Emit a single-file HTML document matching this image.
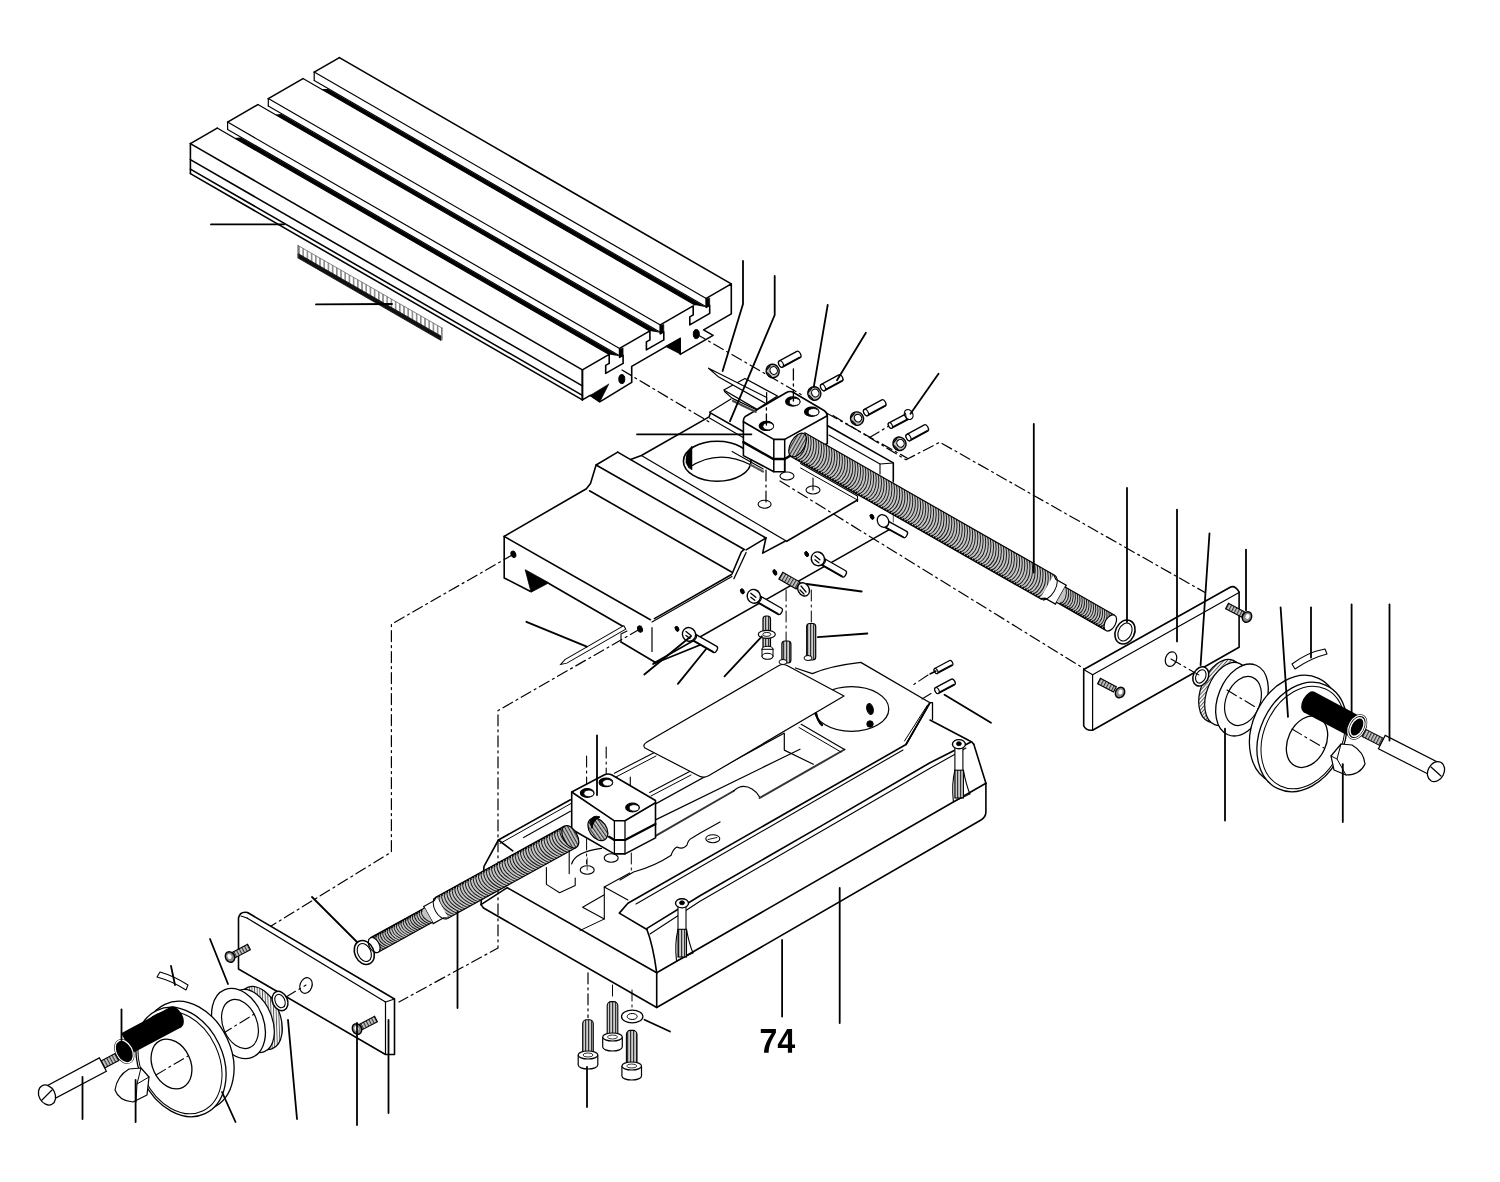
<!DOCTYPE html>
<html><head><meta charset="utf-8"><style>
html,body{margin:0;padding:0;background:#fff;}
svg{display:block;}
text{font-family:"Liberation Sans",sans-serif;}
</style></head><body>
<svg width="1500" height="1182" viewBox="0 0 1500 1182">
<defs>
<pattern id="thr" patternUnits="userSpaceOnUse" width="4" height="4" patternTransform="rotate(-28)">
<rect width="4" height="4" fill="#bbb"/><rect width="1.6" height="4" fill="#222"/>
</pattern>
<pattern id="thr2" patternUnits="userSpaceOnUse" width="3" height="3" patternTransform="rotate(0)">
<rect width="3" height="3" fill="#ccc"/><rect width="1.2" height="3" fill="#333"/>
</pattern>
<pattern id="knurl" patternUnits="userSpaceOnUse" width="2.6" height="2.6" patternTransform="rotate(20)">
<rect width="2.6" height="2.6" fill="#f4f4f4"/><rect width="0.9" height="2.6" fill="#555"/>
</pattern>
<pattern id="rack" patternUnits="userSpaceOnUse" width="4.2" height="10" patternTransform="rotate(0)">
<rect width="4.2" height="10" fill="#fff"/><rect width="1.6" height="10" fill="#888"/>
</pattern>
</defs>
<rect width="1500" height="1182" fill="#fff"/>
<polyline points="190.4,143.6 582.4,369.9" fill="none" stroke="#000" stroke-width="1.6" stroke-linejoin="round" stroke-linecap="round" />
<polyline points="190.4,159.6 582.4,385.9" fill="none" stroke="#000" stroke-width="1.6" stroke-linejoin="round" stroke-linecap="round" />
<polyline points="190.4,169.1 582.4,395.4" fill="none" stroke="#000" stroke-width="1.6" stroke-linejoin="round" stroke-linecap="round" />
<polyline points="190.4,173.6 582.4,399.9" fill="none" stroke="#000" stroke-width="1.6" stroke-linejoin="round" stroke-linecap="round" />
<polyline points="190.4,143.6 190.4,173.6" fill="none" stroke="#000" stroke-width="1.6" stroke-linejoin="round" stroke-linecap="round" />
<polyline points="582.4,369.9 582.4,399.9" fill="none" stroke="#000" stroke-width="1.6" stroke-linejoin="round" stroke-linecap="round" />
<polyline points="190.4,143.6 217.2,128.1" fill="none" stroke="#000" stroke-width="1.6" stroke-linejoin="round" stroke-linecap="round" />
<polygon points="240.6,137.4 619.6,356.2 609.2,354.4 234.6,138.1" fill="#000" stroke="#000" stroke-width="0" stroke-linejoin="round" />
<polyline points="217.2,128.1 609.2,354.4" fill="none" stroke="#000" stroke-width="1.2" stroke-linejoin="round" stroke-linecap="round" />
<polyline points="227.6,122.1 257.9,104.6" fill="none" stroke="#000" stroke-width="1.6" stroke-linejoin="round" stroke-linecap="round" />
<polyline points="227.6,122.1 619.6,348.4" fill="none" stroke="#000" stroke-width="1.2" stroke-linejoin="round" stroke-linecap="round" />
<polyline points="227.6,122.1 227.6,129.5" fill="none" stroke="#000" stroke-width="1.2" stroke-linejoin="round" stroke-linecap="round" />
<polyline points="227.6,129.5 619.6,355.8" fill="none" stroke="#000" stroke-width="1.1" stroke-linejoin="round" stroke-linecap="round" />
<polygon points="281.3,113.9 660.3,332.7 649.9,330.9 275.3,114.6" fill="#000" stroke="#000" stroke-width="0" stroke-linejoin="round" />
<polyline points="257.9,104.6 649.9,330.9" fill="none" stroke="#000" stroke-width="1.2" stroke-linejoin="round" stroke-linecap="round" />
<polyline points="268.3,98.6 303,78.6" fill="none" stroke="#000" stroke-width="1.6" stroke-linejoin="round" stroke-linecap="round" />
<polyline points="268.3,98.6 660.3,324.9" fill="none" stroke="#000" stroke-width="1.2" stroke-linejoin="round" stroke-linecap="round" />
<polyline points="268.3,98.6 268.3,106" fill="none" stroke="#000" stroke-width="1.2" stroke-linejoin="round" stroke-linecap="round" />
<polyline points="268.3,106 660.3,332.3" fill="none" stroke="#000" stroke-width="1.1" stroke-linejoin="round" stroke-linecap="round" />
<polygon points="328.1,88.9 706.2,307.2 694.9,304.9 321.2,89.1" fill="#000" stroke="#000" stroke-width="0" stroke-linejoin="round" />
<polyline points="303,78.6 694.9,304.9" fill="none" stroke="#000" stroke-width="1.2" stroke-linejoin="round" stroke-linecap="round" />
<polyline points="314.2,72.1 339.4,57.6" fill="none" stroke="#000" stroke-width="1.6" stroke-linejoin="round" stroke-linecap="round" />
<polyline points="314.2,72.1 706.2,298.4" fill="none" stroke="#000" stroke-width="1.2" stroke-linejoin="round" stroke-linecap="round" />
<polyline points="314.2,72.1 314.2,80.5" fill="none" stroke="#000" stroke-width="1.2" stroke-linejoin="round" stroke-linecap="round" />
<polyline points="314.2,80.5 706.2,306.8" fill="none" stroke="#000" stroke-width="1.1" stroke-linejoin="round" stroke-linecap="round" />
<polyline points="339.4,57.6 731.3,283.9" fill="none" stroke="#000" stroke-width="1.6" stroke-linejoin="round" stroke-linecap="round" />
<polyline points="582.4,369.9 609.2,354.4 609.2,363.4 605.7,365.4 605.7,373.4 623.1,363.4 623.1,355.4 619.6,357.4 619.6,348.4 649.9,330.9 649.9,339.9 646.4,341.9 646.4,349.9 663.8,339.9 663.8,331.9 660.3,333.9 660.3,324.9 693.2,305.9 693.2,314.9 689.8,316.9 689.8,324.9 709.7,313.4 709.7,305.4 706.2,307.4 706.2,298.4 731.3,283.9 731.3,313.9 703.6,329.9 713.1,335.4 680.2,354.4 680.2,338.4 631.7,366.4 631.7,382.4 603.1,399.9 599.7,401.9 590.2,395.4 582.4,399.9 582.4,369.9" fill="none" stroke="#000" stroke-width="1.6" stroke-linejoin="round" stroke-linecap="round" />
<polygon points="619.6,348.9 623.1,347.9 623.1,355.4 619.6,356.9" fill="#000" stroke="#000" stroke-width="0.6" stroke-linejoin="round" />
<polygon points="660.3,325.4 663.8,324.4 663.8,331.9 660.3,333.4" fill="#000" stroke="#000" stroke-width="0.6" stroke-linejoin="round" />
<polygon points="706.2,298.9 709.7,297.9 709.7,305.4 706.2,306.9" fill="#000" stroke="#000" stroke-width="0.6" stroke-linejoin="round" />
<polygon points="589.9,395.5 608.9,383.9 599.9,401.8" fill="#000" stroke="#000" stroke-width="0.6" stroke-linejoin="round" />
<polygon points="665.5,346.4 680.5,338.2 680.5,354.2" fill="#000" stroke="#000" stroke-width="0.6" stroke-linejoin="round" />
<ellipse cx="621.8" cy="379.1" rx="3" ry="4.5" transform="rotate(0 621.8 379.1)" fill="#000" stroke="#000" stroke-width="1" />
<ellipse cx="696.3" cy="334.1" rx="3" ry="4.5" transform="rotate(0 696.3 334.1)" fill="#000" stroke="#000" stroke-width="1" />
<polygon points="298,245.5 442,328 441,339.5 298,257" fill="url(#rack)" stroke="#000" stroke-width="0" stroke-linejoin="round" />
<polyline points="298,245.5 442,328" fill="none" stroke="#666" stroke-width="0.8" stroke-linejoin="round" stroke-linecap="round" />
<polygon points="298,253.5 441,336 441,340.5 298,258" fill="#111" stroke="#111" stroke-width="0.8" stroke-linejoin="round" />
<polyline points="298,245.5 298,258" fill="none" stroke="#555" stroke-width="1" stroke-linejoin="round" stroke-linecap="round" />
<polyline points="442,328 442,340" fill="none" stroke="#555" stroke-width="1" stroke-linejoin="round" stroke-linecap="round" />
<polyline points="504.2,536.4 586.4,488.7 590.5,483.6 596.1,465 617.7,452.1" fill="none" stroke="#000" stroke-width="1.6" stroke-linejoin="round" stroke-linecap="round" />
<polyline points="504.2,536.4 650.4,619.7" fill="none" stroke="#000" stroke-width="1.6" stroke-linejoin="round" stroke-linecap="round" />
<polyline points="654.4,618.6 731.6,574.5" fill="none" stroke="#000" stroke-width="1.6" stroke-linejoin="round" stroke-linecap="round" />
<polyline points="652,622 732,576.5" fill="none" stroke="#000" stroke-width="1.1" stroke-linejoin="round" stroke-linecap="round" />
<polyline points="589.5,490.8 731.6,572" fill="none" stroke="#000" stroke-width="1.6" stroke-linejoin="round" stroke-linecap="round" />
<polyline points="596.1,465 744.3,549.5" fill="none" stroke="#000" stroke-width="1.6" stroke-linejoin="round" stroke-linecap="round" />
<polyline points="617.7,452.1 765.9,538" fill="none" stroke="#000" stroke-width="1.6" stroke-linejoin="round" stroke-linecap="round" />
<polyline points="732.3,573.3 741.3,552 743.5,549.9" fill="none" stroke="#000" stroke-width="1.6" stroke-linejoin="round" stroke-linecap="round" />
<polyline points="733.9,578.7 746.1,552.5" fill="none" stroke="#000" stroke-width="1.3" stroke-linejoin="round" stroke-linecap="round" />
<polyline points="746.1,549.9 765.9,538" fill="none" stroke="#000" stroke-width="1.6" stroke-linejoin="round" stroke-linecap="round" />
<polyline points="765.9,538 762.7,553.1 785,541.3" fill="none" stroke="#000" stroke-width="1.6" stroke-linejoin="round" stroke-linecap="round" />
<polyline points="786.7,541.3 857.5,500" fill="none" stroke="#000" stroke-width="1.6" stroke-linejoin="round" stroke-linecap="round" />
<polyline points="630.6,459.5 641.4,455.5 709.1,416.9 710.4,412.9 744,432" fill="none" stroke="#000" stroke-width="1.6" stroke-linejoin="round" stroke-linecap="round" />
<polyline points="641.4,455.5 786.7,541.3" fill="none" stroke="#000" stroke-width="1.2" stroke-linejoin="round" stroke-linecap="round" />
<polyline points="709.5,418 744,438" fill="none" stroke="#000" stroke-width="1.1" stroke-linejoin="round" stroke-linecap="round" />
<polyline points="504.2,536.4 504.2,578 530.6,591.5" fill="none" stroke="#000" stroke-width="1.6" stroke-linejoin="round" stroke-linecap="round" />
<polygon points="525.2,569.7 548.9,582.8 531.1,592.2" fill="#000" stroke="#000" stroke-width="0.8" stroke-linejoin="round" />
<polyline points="548.9,583.5 622.3,626" fill="none" stroke="#000" stroke-width="1.6" stroke-linejoin="round" stroke-linecap="round" />
<polyline points="621,642 655.5,662.5" fill="none" stroke="#000" stroke-width="1.6" stroke-linejoin="round" stroke-linecap="round" />
<polyline points="652,627.7 652,651.4" fill="none" stroke="#000" stroke-width="1.2" stroke-linejoin="round" stroke-linecap="round" />
<polyline points="621,642 621,634 627,631" fill="none" stroke="#000" stroke-width="1.1" stroke-linejoin="round" stroke-linecap="round" />
<ellipse cx="513.4" cy="554.3" rx="2.3" ry="3.3" transform="rotate(-20 513.4 554.3)" fill="#000" stroke="#000" stroke-width="1" />
<ellipse cx="640" cy="629" rx="2.3" ry="3.3" transform="rotate(-20 640 629)" fill="#000" stroke="#000" stroke-width="1" />
<polyline points="653.6,663.3 888.8,529.9" fill="none" stroke="#000" stroke-width="1.6" stroke-linejoin="round" stroke-linecap="round" />
<polyline points="893.3,481 893.3,522" fill="none" stroke="#555" stroke-width="1.0" stroke-linejoin="round" stroke-linecap="round" />
<polyline points="827.7,425.7 893.3,462.9 893.3,481.2" fill="none" stroke="#000" stroke-width="1.6" stroke-linejoin="round" stroke-linecap="round" />
<polyline points="829,435 880,464 880,474" fill="none" stroke="#000" stroke-width="1.1" stroke-linejoin="round" stroke-linecap="round" />
<polyline points="880,464 893.3,463" fill="none" stroke="#000" stroke-width="1.1" stroke-linejoin="round" stroke-linecap="round" />
<polyline points="800.6,463.6 857.5,496.1 857.5,501.5" fill="none" stroke="#000" stroke-width="1.1" stroke-linejoin="round" stroke-linecap="round" />
<polyline points="800.6,468 857.5,500" fill="none" stroke="#000" stroke-width="1.0" stroke-linejoin="round" stroke-linecap="round" />
<ellipse cx="677" cy="628.8" rx="1.6" ry="2.6" transform="rotate(-25 677 628.8)" fill="#000" stroke="#000" stroke-width="0.8" />
<ellipse cx="742.3" cy="591.5" rx="1.6" ry="2.6" transform="rotate(-25 742.3 591.5)" fill="#000" stroke="#000" stroke-width="0.8" />
<ellipse cx="775" cy="572.8" rx="1.6" ry="2.6" transform="rotate(-25 775 572.8)" fill="#000" stroke="#000" stroke-width="0.8" />
<ellipse cx="806.7" cy="554.1" rx="1.6" ry="2.6" transform="rotate(-25 806.7 554.1)" fill="#000" stroke="#000" stroke-width="0.8" />
<ellipse cx="872" cy="516.8" rx="1.6" ry="2.6" transform="rotate(-25 872 516.8)" fill="#000" stroke="#000" stroke-width="0.8" />
<ellipse cx="717.2" cy="461.2" rx="33.8" ry="20" transform="rotate(0 717.2 461.2)" fill="#fff" stroke="#000" stroke-width="1.6" />
<path d="M688.8,467.7 Q718,448 751,465" fill="none" stroke="#000" stroke-width="1.2" stroke-linejoin="round" stroke-linecap="round" />
<path d="M686,458 Q686,452 692,446 L692,470 Q688,468 686,463 Z" fill="#000" stroke="#000" stroke-width="0.5" stroke-linejoin="round" stroke-linecap="round" />
<ellipse cx="764.6" cy="504.2" rx="6.5" ry="4" transform="rotate(0 764.6 504.2)" fill="none" stroke="#000" stroke-width="1.1" />
<polyline points="732.1,451.4 763.2,469" fill="none" stroke="#000" stroke-width="1.1" stroke-linejoin="round" stroke-linecap="round" />
<polyline points="751,465 763,471.5" fill="none" stroke="#555" stroke-width="2.2" stroke-linejoin="round" stroke-linecap="round" stroke-dasharray="1.1 1.1"/>
<polyline points="481,904.6 507.2,887.7 656.7,972.8 656.7,1007.5 483.5,908 481,904.6" fill="none" stroke="#000" stroke-width="1.6" stroke-linejoin="round" stroke-linecap="round" />
<path d="M656.7,1007.5 L981,820 Q985.9,817 985.9,812 L985.9,783.3" fill="none" stroke="#000" stroke-width="1.6" stroke-linejoin="round" stroke-linecap="round" />
<polyline points="656.7,972.8 985.9,783.3" fill="none" stroke="#000" stroke-width="1.6" stroke-linejoin="round" stroke-linecap="round" />
<path d="M656.7,972.8 Q653,945 646.9,929.5" fill="none" stroke="#000" stroke-width="1.6" stroke-linejoin="round" stroke-linecap="round" />
<polyline points="973.8,744.2 985.9,783.3" fill="none" stroke="#000" stroke-width="1.6" stroke-linejoin="round" stroke-linecap="round" />
<polyline points="647,928.4 700,895.8 820,826.6 930,762.8 971,742" fill="none" stroke="#000" stroke-width="1.6" stroke-linejoin="round" stroke-linecap="round" />
<polyline points="650,934 700,901.3 820,832.1 930,768.3 966,748" fill="none" stroke="#000" stroke-width="1.1" stroke-linejoin="round" stroke-linecap="round" />
<polyline points="646.9,929.5 619.3,913.1 627.9,903.3 906,744.5 930,702.7" fill="none" stroke="#000" stroke-width="1.6" stroke-linejoin="round" stroke-linecap="round" />
<polyline points="636,904 903,750" fill="none" stroke="#000" stroke-width="1.1" stroke-linejoin="round" stroke-linecap="round" />
<path d="M930,720 L969,740.5 Q972,741.5 973.8,744.2" fill="none" stroke="#000" stroke-width="1.6" stroke-linejoin="round" stroke-linecap="round" />
<polyline points="604.3,886.9 604.3,919 582.6,907.2 604.3,894.8" fill="none" stroke="#000" stroke-width="1.1" stroke-linejoin="round" stroke-linecap="round" />
<polyline points="604.3,886.9 627.9,900" fill="none" stroke="#000" stroke-width="1.1" stroke-linejoin="round" stroke-linecap="round" />
<polyline points="604.3,886.9 629.8,873.1" fill="none" stroke="#000" stroke-width="1.1" stroke-linejoin="round" stroke-linecap="round" />
<polyline points="580,930.5 604.3,919" fill="none" stroke="#000" stroke-width="1.0" stroke-linejoin="round" stroke-linecap="round" />
<polyline points="481,904.6 484,866.4 498.4,840 570.4,799.8" fill="none" stroke="#000" stroke-width="1.6" stroke-linejoin="round" stroke-linecap="round" />
<polyline points="500,843.5 571,803.5" fill="none" stroke="#000" stroke-width="1.0" stroke-linejoin="round" stroke-linecap="round" />
<polyline points="498.4,840 512.8,850.8" fill="none" stroke="#000" stroke-width="1.6" stroke-linejoin="round" stroke-linecap="round" />
<polyline points="523.6,837.6 570.4,811.2" fill="none" stroke="#000" stroke-width="1.1" stroke-linejoin="round" stroke-linecap="round" />
<polyline points="546.4,867.6 546.4,884.4 559.6,892.8 575.2,885.6 575.2,878" fill="none" stroke="#000" stroke-width="1.1" stroke-linejoin="round" stroke-linecap="round" />
<polyline points="569.2,849.6 569.2,873.6" fill="none" stroke="#000" stroke-width="1.1" stroke-linejoin="round" stroke-linecap="round" />
<path d="M571.6,864 Q575,852 601.6,848.4" fill="none" stroke="#000" stroke-width="1.1" stroke-linejoin="round" stroke-linecap="round" />
<path d="M620,880 L633.6,872 Q655,866 671.2,855.2 Q673,849 677,847 Q683,850 687,845 Q688,840 692,838 L700.7,832.7 L720,821.9" fill="none" stroke="#000" stroke-width="1.2" stroke-linejoin="round" stroke-linecap="round" />
<polyline points="656,803.6 784,733.2" fill="none" stroke="#000" stroke-width="1.2" stroke-linejoin="round" stroke-linecap="round" />
<polyline points="656,819.6 800,749.2" fill="none" stroke="#000" stroke-width="1.2" stroke-linejoin="round" stroke-linecap="round" />
<polyline points="640,844.8 733.6,791" fill="none" stroke="#333" stroke-width="2.0" stroke-linejoin="round" stroke-linecap="round" />
<path d="M733.6,791 Q742,783 752,789 Q757,792 759.6,797" fill="none" stroke="#000" stroke-width="1.2" stroke-linejoin="round" stroke-linecap="round" />
<polyline points="759.6,798 844.5,749.5" fill="none" stroke="#333" stroke-width="2.0" stroke-linejoin="round" stroke-linecap="round" />
<polyline points="801.2,724.3 844.5,749.5" fill="none" stroke="#000" stroke-width="1.2" stroke-linejoin="round" stroke-linecap="round" />
<polyline points="799,727.5 841,752" fill="none" stroke="#000" stroke-width="1.0" stroke-linejoin="round" stroke-linecap="round" />
<polyline points="784.3,733.3 784.3,750.1 813.3,764.2" fill="none" stroke="#000" stroke-width="1.2" stroke-linejoin="round" stroke-linecap="round" />
<polyline points="614.4,773.2 654.4,752.4" fill="none" stroke="#000" stroke-width="1.1" stroke-linejoin="round" stroke-linecap="round" />
<polyline points="616,777 656,756" fill="none" stroke="#000" stroke-width="1.0" stroke-linejoin="round" stroke-linecap="round" />
<polyline points="649.6,792.4 689.6,771.6" fill="none" stroke="#000" stroke-width="1.1" stroke-linejoin="round" stroke-linecap="round" />
<polyline points="651,796 691,775" fill="none" stroke="#000" stroke-width="1.0" stroke-linejoin="round" stroke-linecap="round" />
<polyline points="612,776 612,790" fill="none" stroke="#000" stroke-width="1.0" stroke-linejoin="round" stroke-linecap="round" />
<path d="M795.5,668 L812.3,673.6 Q830,666 860.8,662.4 L930,702.7 L932.5,702.7 L932.5,719.6" fill="none" stroke="#000" stroke-width="1.3" stroke-linejoin="round" stroke-linecap="round" />
<polyline points="930,702.7 906,744.5" fill="none" stroke="#000" stroke-width="1.6" stroke-linejoin="round" stroke-linecap="round" />
<polyline points="927.5,705 904.5,741" fill="none" stroke="#000" stroke-width="1.0" stroke-linejoin="round" stroke-linecap="round" />
<ellipse cx="851.5" cy="709" rx="37.3" ry="22.4" transform="rotate(0 851.5 709)" fill="#fff" stroke="#000" stroke-width="1.2" />
<ellipse cx="870" cy="709" rx="3.2" ry="5.5" transform="rotate(-15 870 709)" fill="#000" stroke="#000" stroke-width="1" />
<ellipse cx="870" cy="724" rx="3.2" ry="3.2" transform="rotate(0 870 724)" fill="#000" stroke="#000" stroke-width="1" />
<path d="M647,742 L779,665.5 Q783,663.5 787,665.5 L844,696 L709,775.5 Q704,778.5 699,776 L645,748 Q642,745 647,742 Z" fill="#fff" stroke="#000" stroke-width="1.2" stroke-linejoin="round" stroke-linecap="round" />
<path d="M816,713 Q818,722 822,725" fill="none" stroke="#000" stroke-width="2.2" stroke-linejoin="round" stroke-linecap="round" />
<ellipse cx="587.2" cy="870" rx="7" ry="4.2" transform="rotate(0 587.2 870)" fill="#fff" stroke="#000" stroke-width="1.1" />
<polyline points="587.2,858 587.2,870" fill="none" stroke="#555" stroke-width="1.0" stroke-linejoin="round" stroke-linecap="round" />
<ellipse cx="611.2" cy="858" rx="7" ry="4.2" transform="rotate(0 611.2 858)" fill="#fff" stroke="#000" stroke-width="1.1" />
<ellipse cx="712.8" cy="838.7" rx="7" ry="4" transform="rotate(0 712.8 838.7)" fill="none" stroke="#000" stroke-width="1.1" />
<polyline points="708,839.5 717,837.5" fill="none" stroke="#000" stroke-width="0.9" stroke-linejoin="round" stroke-linecap="round" />
<path d="M676.5,961 Q674.5,943.3 678,929.3 M686.5,929.3 Q689,943.3 693,953" fill="none" stroke="#000" stroke-width="1.1" stroke-linejoin="round" stroke-linecap="round" />
<rect x="678.0" y="905.3" width="8" height="25" fill="#fff" stroke="#000" stroke-width="1.1"/>
<rect x="678.0" y="929.3" width="8.5" height="27.7" fill="url(#thr2)" stroke="#000" stroke-width="1.1"/>
<ellipse cx="682" cy="903.3" rx="6.5" ry="4.6" transform="rotate(0 682 903.3)" fill="#fff" stroke="#000" stroke-width="1.4" />
<ellipse cx="682" cy="902.8" rx="2.5" ry="2" transform="rotate(0 682 902.8)" fill="#000" stroke="#000" stroke-width="0.8" />
<polyline points="676.5,961 693,953" fill="none" stroke="#000" stroke-width="1.0" stroke-linejoin="round" stroke-linecap="round" />
<path d="M953.4,802 Q951.4,784.2 954.9,770.2 M963.4,770.2 Q965.9,784.2 969.9,794" fill="none" stroke="#000" stroke-width="1.1" stroke-linejoin="round" stroke-linecap="round" />
<rect x="954.9" y="746.2" width="8" height="25" fill="#fff" stroke="#000" stroke-width="1.1"/>
<rect x="954.9" y="770.2" width="8.5" height="27.8" fill="url(#thr2)" stroke="#000" stroke-width="1.1"/>
<ellipse cx="958.9" cy="744.2" rx="6.5" ry="4.6" transform="rotate(0 958.9 744.2)" fill="#fff" stroke="#000" stroke-width="1.4" />
<ellipse cx="958.9" cy="743.7" rx="2.5" ry="2" transform="rotate(0 958.9 743.7)" fill="#000" stroke="#000" stroke-width="0.8" />
<polyline points="953.4,802 969.9,794" fill="none" stroke="#000" stroke-width="1.0" stroke-linejoin="round" stroke-linecap="round" />
<polyline points="513.4,554.3 391.4,624.2 391.4,852 268,928" fill="none" stroke="#000" stroke-width="1.2" stroke-linejoin="round" stroke-linecap="round" stroke-dasharray="11 4 2 4" stroke-linecap="butt"/>
<polyline points="640,629 498,710.6 498,948 399,1002" fill="none" stroke="#000" stroke-width="1.2" stroke-linejoin="round" stroke-linecap="round" stroke-dasharray="11 4 2 4" stroke-linecap="butt"/>
<polyline points="695.5,333.5 803.6,396" fill="none" stroke="#000" stroke-width="1.2" stroke-linejoin="round" stroke-linecap="round" stroke-dasharray="11 4 2 4" stroke-linecap="butt"/>
<polyline points="622,370 711,423" fill="none" stroke="#000" stroke-width="1.2" stroke-linejoin="round" stroke-linecap="round" stroke-dasharray="11 4 2 4" stroke-linecap="butt"/>
<polyline points="833,415.5 869.5,437.5 906,459.8 939.8,442.2 1205,592.5" fill="none" stroke="#000" stroke-width="1.2" stroke-linejoin="round" stroke-linecap="round" stroke-dasharray="11 4 2 4" stroke-linecap="butt"/>
<polyline points="869.5,437.5 889.8,425.5" fill="none" stroke="#000" stroke-width="1.2" stroke-linejoin="round" stroke-linecap="round" stroke-dasharray="11 4 2 4" stroke-linecap="butt"/>
<polyline points="780,481 1084.6,669" fill="none" stroke="#000" stroke-width="1.2" stroke-linejoin="round" stroke-linecap="round" stroke-dasharray="11 4 2 4" stroke-linecap="butt"/>
<polyline points="827.3,413.4 907.8,458.4" fill="none" stroke="#000" stroke-width="1.2" stroke-linejoin="round" stroke-linecap="round" stroke-dasharray="11 4 2 4" stroke-linecap="butt"/>
<polyline points="766,470 766,505" fill="none" stroke="#000" stroke-width="1.2" stroke-linejoin="round" stroke-linecap="round" stroke-dasharray="11 4 2 4" stroke-linecap="butt"/>
<polyline points="586.6,756 586.6,792" fill="none" stroke="#000" stroke-width="1.1" stroke-linejoin="round" stroke-linecap="round" stroke-dasharray="11 4 2 4" stroke-linecap="butt"/>
<polyline points="606.2,747 606.2,777" fill="none" stroke="#000" stroke-width="1.1" stroke-linejoin="round" stroke-linecap="round" stroke-dasharray="11 4 2 4" stroke-linecap="butt"/>
<polyline points="630.3,777 630.3,805" fill="none" stroke="#000" stroke-width="1.1" stroke-linejoin="round" stroke-linecap="round" stroke-dasharray="11 4 2 4" stroke-linecap="butt"/>
<polyline points="586.6,839 586.6,864" fill="none" stroke="#000" stroke-width="1.0" stroke-linejoin="round" stroke-linecap="round" stroke-dasharray="11 4 2 4" stroke-linecap="butt"/>
<polyline points="631.3,853 631.3,871" fill="none" stroke="#000" stroke-width="1.0" stroke-linejoin="round" stroke-linecap="round" stroke-dasharray="11 4 2 4" stroke-linecap="butt"/>
<polyline points="588,972.8 588,1017.6" fill="none" stroke="#000" stroke-width="1.2" stroke-linejoin="round" stroke-linecap="round" stroke-dasharray="11 4 2 4" stroke-linecap="butt"/>
<polyline points="612.5,985 612.5,1000" fill="none" stroke="#000" stroke-width="1.0" stroke-linejoin="round" stroke-linecap="round" stroke-dasharray="11 4 2 4" stroke-linecap="butt"/>
<polyline points="632,990 632,1010" fill="none" stroke="#000" stroke-width="1.0" stroke-linejoin="round" stroke-linecap="round" stroke-dasharray="11 4 2 4" stroke-linecap="butt"/>
<polyline points="811.3,590 811.3,624" fill="none" stroke="#000" stroke-width="1.0" stroke-linejoin="round" stroke-linecap="round" stroke-dasharray="11 4 2 4" stroke-linecap="butt"/>
<polyline points="786.1,590 786.1,641" fill="none" stroke="#000" stroke-width="1.0" stroke-linejoin="round" stroke-linecap="round" stroke-dasharray="11 4 2 4" stroke-linecap="butt"/>
<path d="M743.4,421 Q743.4,417 747,415.5 L786.5,392.5 Q790,390.5 793.5,392.5 L824,410.5 Q827.3,412.5 827.3,416 L827.3,443.5 L800,458 L791.4,455 L784.7,459 L784.7,471.7 L773.8,471.7 L743.4,455.6 Z" fill="#fff" stroke="#000" stroke-width="1.6" stroke-linejoin="round" stroke-linecap="round" />
<polyline points="743.4,421.8 773.8,439.4 784.7,439.4 827.3,415.7" fill="none" stroke="#000" stroke-width="1.6" stroke-linejoin="round" stroke-linecap="round" />
<polyline points="773.8,439.4 773.8,471.7" fill="none" stroke="#000" stroke-width="1.5" stroke-linejoin="round" stroke-linecap="round" />
<polyline points="784.7,439.4 784.7,471.7" fill="none" stroke="#000" stroke-width="1.5" stroke-linejoin="round" stroke-linecap="round" />
<polyline points="743.4,442.1 773.2,459 784.7,459 791.4,455" fill="none" stroke="#000" stroke-width="2.4" stroke-linejoin="round" stroke-linecap="round" />
<ellipse cx="792.8" cy="401.5" rx="7.2" ry="4.6" transform="rotate(0 792.8 401.5)" fill="#000" stroke="#000" stroke-width="1.2" />
<ellipse cx="794.6" cy="401.9" rx="5.4" ry="3.6" transform="rotate(0 794.6 401.9)" fill="#fff" stroke="#000" stroke-width="0" />
<ellipse cx="794.6" cy="401.9" rx="5.4" ry="3.6" transform="rotate(0 794.6 401.9)" fill="none" stroke="#000" stroke-width="0.9" />
<ellipse cx="811.7" cy="411.7" rx="7.2" ry="4.6" transform="rotate(0 811.7 411.7)" fill="#000" stroke="#000" stroke-width="1.2" />
<ellipse cx="813.5" cy="412.1" rx="5.4" ry="3.6" transform="rotate(0 813.5 412.1)" fill="#fff" stroke="#000" stroke-width="0" />
<ellipse cx="813.5" cy="412.1" rx="5.4" ry="3.6" transform="rotate(0 813.5 412.1)" fill="none" stroke="#000" stroke-width="0.9" />
<ellipse cx="766.4" cy="425.9" rx="7.2" ry="4.6" transform="rotate(0 766.4 425.9)" fill="#000" stroke="#000" stroke-width="1.2" />
<ellipse cx="768.2" cy="426.3" rx="5.4" ry="3.6" transform="rotate(0 768.2 426.3)" fill="#fff" stroke="#000" stroke-width="0" />
<ellipse cx="768.2" cy="426.3" rx="5.4" ry="3.6" transform="rotate(0 768.2 426.3)" fill="none" stroke="#000" stroke-width="0.9" />
<polyline points="793.4,369 793.4,401.5" fill="none" stroke="#000" stroke-width="1.3" stroke-linejoin="round" stroke-linecap="round" stroke-dasharray="11 4 2 4" stroke-linecap="butt"/>
<polyline points="766.4,393 766.4,426" fill="none" stroke="#000" stroke-width="1.3" stroke-linejoin="round" stroke-linecap="round" stroke-dasharray="11 4 2 4" stroke-linecap="butt"/>
<g transform="translate(797.6,444.5) rotate(29.70)">
<rect x="0" y="-13.7" width="288.0" height="27.3" fill="#c4c4c4" stroke="none"/>
<path d="M1.0,-13.7 Q13.3,1.4 5.8,13.7 M4.0,-13.7 Q16.3,1.4 8.8,13.7 M7.0,-13.7 Q19.3,1.4 11.8,13.7 M10.0,-13.7 Q22.3,1.4 14.8,13.7 M13.0,-13.7 Q25.3,1.4 17.8,13.7 M16.0,-13.7 Q28.3,1.4 20.8,13.7 M19.0,-13.7 Q31.3,1.4 23.8,13.7 M22.0,-13.7 Q34.3,1.4 26.8,13.7 M25.0,-13.7 Q37.3,1.4 29.8,13.7 M28.0,-13.7 Q40.3,1.4 32.8,13.7 M31.0,-13.7 Q43.3,1.4 35.8,13.7 M34.0,-13.7 Q46.3,1.4 38.8,13.7 M37.0,-13.7 Q49.3,1.4 41.8,13.7 M40.0,-13.7 Q52.3,1.4 44.8,13.7 M43.0,-13.7 Q55.3,1.4 47.8,13.7 M46.0,-13.7 Q58.3,1.4 50.8,13.7 M49.0,-13.7 Q61.3,1.4 53.8,13.7 M52.0,-13.7 Q64.3,1.4 56.8,13.7 M55.0,-13.7 Q67.3,1.4 59.8,13.7 M58.0,-13.7 Q70.3,1.4 62.8,13.7 M61.0,-13.7 Q73.3,1.4 65.8,13.7 M64.0,-13.7 Q76.3,1.4 68.8,13.7 M67.0,-13.7 Q79.3,1.4 71.8,13.7 M70.0,-13.7 Q82.3,1.4 74.8,13.7 M73.0,-13.7 Q85.3,1.4 77.8,13.7 M76.0,-13.7 Q88.3,1.4 80.8,13.7 M79.0,-13.7 Q91.3,1.4 83.8,13.7 M82.0,-13.7 Q94.3,1.4 86.8,13.7 M85.0,-13.7 Q97.3,1.4 89.8,13.7 M88.0,-13.7 Q100.3,1.4 92.8,13.7 M91.0,-13.7 Q103.3,1.4 95.8,13.7 M94.0,-13.7 Q106.3,1.4 98.8,13.7 M97.0,-13.7 Q109.3,1.4 101.8,13.7 M100.0,-13.7 Q112.3,1.4 104.8,13.7 M103.0,-13.7 Q115.3,1.4 107.8,13.7 M106.0,-13.7 Q118.3,1.4 110.8,13.7 M109.0,-13.7 Q121.3,1.4 113.8,13.7 M112.0,-13.7 Q124.3,1.4 116.8,13.7 M115.0,-13.7 Q127.3,1.4 119.8,13.7 M118.0,-13.7 Q130.3,1.4 122.8,13.7 M121.0,-13.7 Q133.3,1.4 125.8,13.7 M124.0,-13.7 Q136.3,1.4 128.8,13.7 M127.0,-13.7 Q139.3,1.4 131.8,13.7 M130.0,-13.7 Q142.3,1.4 134.8,13.7 M133.0,-13.7 Q145.3,1.4 137.8,13.7 M136.0,-13.7 Q148.3,1.4 140.8,13.7 M139.0,-13.7 Q151.3,1.4 143.8,13.7 M142.0,-13.7 Q154.3,1.4 146.8,13.7 M145.0,-13.7 Q157.3,1.4 149.8,13.7 M148.0,-13.7 Q160.3,1.4 152.8,13.7 M151.0,-13.7 Q163.3,1.4 155.8,13.7 M154.0,-13.7 Q166.3,1.4 158.8,13.7 M157.0,-13.7 Q169.3,1.4 161.8,13.7 M160.0,-13.7 Q172.3,1.4 164.8,13.7 M163.0,-13.7 Q175.3,1.4 167.8,13.7 M166.0,-13.7 Q178.3,1.4 170.8,13.7 M169.0,-13.7 Q181.3,1.4 173.8,13.7 M172.0,-13.7 Q184.3,1.4 176.8,13.7 M175.0,-13.7 Q187.3,1.4 179.8,13.7 M178.0,-13.7 Q190.3,1.4 182.8,13.7 M181.0,-13.7 Q193.3,1.4 185.8,13.7 M184.0,-13.7 Q196.3,1.4 188.8,13.7 M187.0,-13.7 Q199.3,1.4 191.8,13.7 M190.0,-13.7 Q202.3,1.4 194.8,13.7 M193.0,-13.7 Q205.3,1.4 197.8,13.7 M196.0,-13.7 Q208.3,1.4 200.8,13.7 M199.0,-13.7 Q211.3,1.4 203.8,13.7 M202.0,-13.7 Q214.3,1.4 206.8,13.7 M205.0,-13.7 Q217.3,1.4 209.8,13.7 M208.0,-13.7 Q220.3,1.4 212.8,13.7 M211.0,-13.7 Q223.3,1.4 215.8,13.7 M214.0,-13.7 Q226.3,1.4 218.8,13.7 M217.0,-13.7 Q229.3,1.4 221.8,13.7 M220.0,-13.7 Q232.3,1.4 224.8,13.7 M223.0,-13.7 Q235.3,1.4 227.8,13.7 M226.0,-13.7 Q238.3,1.4 230.8,13.7 M229.0,-13.7 Q241.3,1.4 233.8,13.7 M232.0,-13.7 Q244.3,1.4 236.8,13.7 M235.0,-13.7 Q247.3,1.4 239.8,13.7 M238.0,-13.7 Q250.3,1.4 242.8,13.7 M241.0,-13.7 Q253.3,1.4 245.8,13.7 M244.0,-13.7 Q256.3,1.4 248.8,13.7 M247.0,-13.7 Q259.3,1.4 251.8,13.7 M250.0,-13.7 Q262.3,1.4 254.8,13.7 M253.0,-13.7 Q265.3,1.4 257.8,13.7 M256.0,-13.7 Q268.3,1.4 260.8,13.7 M259.0,-13.7 Q271.3,1.4 263.8,13.7 M262.0,-13.7 Q274.3,1.4 266.8,13.7 M265.0,-13.7 Q277.3,1.4 269.8,13.7 M268.0,-13.7 Q280.3,1.4 272.8,13.7 M271.0,-13.7 Q283.3,1.4 275.8,13.7 M274.0,-13.7 Q286.3,1.4 278.8,13.7 M277.0,-13.7 Q289.3,1.4 281.8,13.7 M280.0,-13.7 Q292.3,1.4 284.8,13.7 M283.0,-13.7 Q295.3,1.4 287.8,13.7 M286.0,-13.7 Q298.3,1.4 290.8,13.7" fill="none" stroke="#151515" stroke-width="0.95"/>
<path d="M4.6,13.7 L7.4,13.7 L5.6,11.1 Z M7.6,13.7 L10.4,13.7 L8.6,11.1 Z M10.6,13.7 L13.4,13.7 L11.6,11.1 Z M13.6,13.7 L16.4,13.7 L14.6,11.1 Z M16.6,13.7 L19.4,13.7 L17.6,11.1 Z M19.6,13.7 L22.4,13.7 L20.6,11.1 Z M22.6,13.7 L25.4,13.7 L23.6,11.1 Z M25.6,13.7 L28.4,13.7 L26.6,11.1 Z M28.6,13.7 L31.4,13.7 L29.6,11.1 Z M31.6,13.7 L34.4,13.7 L32.6,11.1 Z M34.6,13.7 L37.4,13.7 L35.6,11.1 Z M37.6,13.7 L40.4,13.7 L38.6,11.1 Z M40.6,13.7 L43.4,13.7 L41.6,11.1 Z M43.6,13.7 L46.4,13.7 L44.6,11.1 Z M46.6,13.7 L49.4,13.7 L47.6,11.1 Z M49.6,13.7 L52.4,13.7 L50.6,11.1 Z M52.6,13.7 L55.4,13.7 L53.6,11.1 Z M55.6,13.7 L58.4,13.7 L56.6,11.1 Z M58.6,13.7 L61.4,13.7 L59.6,11.1 Z M61.6,13.7 L64.4,13.7 L62.6,11.1 Z M64.6,13.7 L67.4,13.7 L65.6,11.1 Z M67.6,13.7 L70.4,13.7 L68.6,11.1 Z M70.6,13.7 L73.4,13.7 L71.6,11.1 Z M73.6,13.7 L76.4,13.7 L74.6,11.1 Z M76.6,13.7 L79.4,13.7 L77.6,11.1 Z M79.6,13.7 L82.4,13.7 L80.6,11.1 Z M82.6,13.7 L85.4,13.7 L83.6,11.1 Z M85.6,13.7 L88.4,13.7 L86.6,11.1 Z M88.6,13.7 L91.4,13.7 L89.6,11.1 Z M91.6,13.7 L94.4,13.7 L92.6,11.1 Z M94.6,13.7 L97.4,13.7 L95.6,11.1 Z M97.6,13.7 L100.4,13.7 L98.6,11.1 Z M100.6,13.7 L103.4,13.7 L101.6,11.1 Z M103.6,13.7 L106.4,13.7 L104.6,11.1 Z M106.6,13.7 L109.4,13.7 L107.6,11.1 Z M109.6,13.7 L112.4,13.7 L110.6,11.1 Z M112.6,13.7 L115.4,13.7 L113.6,11.1 Z M115.6,13.7 L118.4,13.7 L116.6,11.1 Z M118.6,13.7 L121.4,13.7 L119.6,11.1 Z M121.6,13.7 L124.4,13.7 L122.6,11.1 Z M124.6,13.7 L127.4,13.7 L125.6,11.1 Z M127.6,13.7 L130.4,13.7 L128.6,11.1 Z M130.6,13.7 L133.4,13.7 L131.6,11.1 Z M133.6,13.7 L136.4,13.7 L134.6,11.1 Z M136.6,13.7 L139.4,13.7 L137.6,11.1 Z M139.6,13.7 L142.4,13.7 L140.6,11.1 Z M142.6,13.7 L145.4,13.7 L143.6,11.1 Z M145.6,13.7 L148.4,13.7 L146.6,11.1 Z M148.6,13.7 L151.4,13.7 L149.6,11.1 Z M151.6,13.7 L154.4,13.7 L152.6,11.1 Z M154.6,13.7 L157.4,13.7 L155.6,11.1 Z M157.6,13.7 L160.4,13.7 L158.6,11.1 Z M160.6,13.7 L163.4,13.7 L161.6,11.1 Z M163.6,13.7 L166.4,13.7 L164.6,11.1 Z M166.6,13.7 L169.4,13.7 L167.6,11.1 Z M169.6,13.7 L172.4,13.7 L170.6,11.1 Z M172.6,13.7 L175.4,13.7 L173.6,11.1 Z M175.6,13.7 L178.4,13.7 L176.6,11.1 Z M178.6,13.7 L181.4,13.7 L179.6,11.1 Z M181.6,13.7 L184.4,13.7 L182.6,11.1 Z M184.6,13.7 L187.4,13.7 L185.6,11.1 Z M187.6,13.7 L190.4,13.7 L188.6,11.1 Z M190.6,13.7 L193.4,13.7 L191.6,11.1 Z M193.6,13.7 L196.4,13.7 L194.6,11.1 Z M196.6,13.7 L199.4,13.7 L197.6,11.1 Z M199.6,13.7 L202.4,13.7 L200.6,11.1 Z M202.6,13.7 L205.4,13.7 L203.6,11.1 Z M205.6,13.7 L208.4,13.7 L206.6,11.1 Z M208.6,13.7 L211.4,13.7 L209.6,11.1 Z M211.6,13.7 L214.4,13.7 L212.6,11.1 Z M214.6,13.7 L217.4,13.7 L215.6,11.1 Z M217.6,13.7 L220.4,13.7 L218.6,11.1 Z M220.6,13.7 L223.4,13.7 L221.6,11.1 Z M223.6,13.7 L226.4,13.7 L224.6,11.1 Z M226.6,13.7 L229.4,13.7 L227.6,11.1 Z M229.6,13.7 L232.4,13.7 L230.6,11.1 Z M232.6,13.7 L235.4,13.7 L233.6,11.1 Z M235.6,13.7 L238.4,13.7 L236.6,11.1 Z M238.6,13.7 L241.4,13.7 L239.6,11.1 Z M241.6,13.7 L244.4,13.7 L242.6,11.1 Z M244.6,13.7 L247.4,13.7 L245.6,11.1 Z M247.6,13.7 L250.4,13.7 L248.6,11.1 Z M250.6,13.7 L253.4,13.7 L251.6,11.1 Z M253.6,13.7 L256.4,13.7 L254.6,11.1 Z M256.6,13.7 L259.4,13.7 L257.6,11.1 Z M259.6,13.7 L262.4,13.7 L260.6,11.1 Z M262.6,13.7 L265.4,13.7 L263.6,11.1 Z M265.6,13.7 L268.4,13.7 L266.6,11.1 Z M268.6,13.7 L271.4,13.7 L269.6,11.1 Z M271.6,13.7 L274.4,13.7 L272.6,11.1 Z M274.6,13.7 L277.4,13.7 L275.6,11.1 Z M277.6,13.7 L280.4,13.7 L278.6,11.1 Z M280.6,13.7 L283.4,13.7 L281.6,11.1 Z M283.6,13.7 L286.4,13.7 L284.6,11.1 Z M286.6,13.7 L289.4,13.7 L287.6,11.1 Z" fill="#000"/>
<path d="M0,-13.7 L288.0,-13.7 M0,13.7 L288.0,13.7" stroke="#000" stroke-width="1.2"/>
</g>
<g transform="translate(1047.8,587.2) rotate(29.70)">
<path d="M-1,-13.7 L3,-10.9 L15.0,-10.9 L15.0,10.9 L3,10.9 L-1,13.7" fill="#fff" stroke="#000" stroke-width="1.2"/>
<path d="M0,-13.7 A7.6,13.7 0 0 1 0,13.7" fill="none" stroke="#000" stroke-width="1.0"/>
</g>
<g transform="translate(1060.8,594.6) rotate(29.70)">
<rect x="0" y="-8.8" width="57.0" height="17.5" fill="#c4c4c4" stroke="none"/>
<path d="M1.0,-8.8 Q8.9,0.9 4.1,8.8 M3.6,-8.8 Q11.5,0.9 6.7,8.8 M6.2,-8.8 Q14.1,0.9 9.3,8.8 M8.8,-8.8 Q16.7,0.9 11.9,8.8 M11.4,-8.8 Q19.3,0.9 14.5,8.8 M14.0,-8.8 Q21.9,0.9 17.1,8.8 M16.6,-8.8 Q24.5,0.9 19.7,8.8 M19.2,-8.8 Q27.1,0.9 22.3,8.8 M21.8,-8.8 Q29.7,0.9 24.9,8.8 M24.4,-8.8 Q32.3,0.9 27.5,8.8 M27.0,-8.8 Q34.9,0.9 30.1,8.8 M29.6,-8.8 Q37.5,0.9 32.7,8.8 M32.2,-8.8 Q40.1,0.9 35.3,8.8 M34.8,-8.8 Q42.7,0.9 37.9,8.8 M37.4,-8.8 Q45.3,0.9 40.5,8.8 M40.0,-8.8 Q47.9,0.9 43.1,8.8 M42.6,-8.8 Q50.5,0.9 45.7,8.8 M45.2,-8.8 Q53.1,0.9 48.3,8.8 M47.8,-8.8 Q55.7,0.9 50.9,8.8 M50.4,-8.8 Q58.3,0.9 53.5,8.8 M53.0,-8.8 Q60.9,0.9 56.1,8.8 M55.6,-8.8 Q63.5,0.9 58.7,8.8" fill="none" stroke="#151515" stroke-width="0.95"/>
<path d="M2.9,8.8 L5.7,8.8 L3.9,6.2 Z M5.5,8.8 L8.3,8.8 L6.5,6.2 Z M8.1,8.8 L10.9,8.8 L9.1,6.2 Z M10.7,8.8 L13.5,8.8 L11.7,6.2 Z M13.3,8.8 L16.1,8.8 L14.3,6.2 Z M15.9,8.8 L18.7,8.8 L16.9,6.2 Z M18.5,8.8 L21.3,8.8 L19.5,6.2 Z M21.1,8.8 L23.9,8.8 L22.1,6.2 Z M23.7,8.8 L26.5,8.8 L24.7,6.2 Z M26.3,8.8 L29.1,8.8 L27.3,6.2 Z M28.9,8.8 L31.7,8.8 L29.9,6.2 Z M31.5,8.8 L34.3,8.8 L32.5,6.2 Z M34.1,8.8 L36.9,8.8 L35.1,6.2 Z M36.7,8.8 L39.5,8.8 L37.7,6.2 Z M39.3,8.8 L42.1,8.8 L40.3,6.2 Z M41.9,8.8 L44.7,8.8 L42.9,6.2 Z M44.5,8.8 L47.3,8.8 L45.5,6.2 Z M47.1,8.8 L49.9,8.8 L48.1,6.2 Z M49.7,8.8 L52.5,8.8 L50.7,6.2 Z M52.3,8.8 L55.1,8.8 L53.3,6.2 Z M54.9,8.8 L57.7,8.8 L55.9,6.2 Z" fill="#000"/>
<path d="M0,-8.8 L57.0,-8.8 M0,8.8 L57.0,8.8" stroke="#000" stroke-width="1.2"/>
</g>
<ellipse cx="1110.3" cy="622.9" rx="5.2" ry="8.8" transform="rotate(29.7 1110.3 622.9)" fill="#fff" stroke="#000" stroke-width="1.2" />
<ellipse cx="797.6" cy="445" rx="7" ry="13" transform="rotate(29.7 797.6 445)" fill="url(#thr2)" stroke="#000" stroke-width="1.2" />
<path d="M571.7,792 L604,775 Q608,773 612,775 L655.5,800.5 L655.5,837.9 L625,853.9 L614.4,853.9 L571.7,829.3 Z" fill="#fff" stroke="#000" stroke-width="1.6" stroke-linejoin="round" stroke-linecap="round" />
<polyline points="571.7,792 614.4,820.8 625,820.8 655.5,802.7" fill="none" stroke="#000" stroke-width="1.6" stroke-linejoin="round" stroke-linecap="round" />
<polyline points="614.4,820.8 614.4,853.9" fill="none" stroke="#000" stroke-width="1.3" stroke-linejoin="round" stroke-linecap="round" />
<polyline points="625,820.8 625,853.9" fill="none" stroke="#000" stroke-width="1.3" stroke-linejoin="round" stroke-linecap="round" />
<polyline points="609,836.8 614.4,840 625,840 655.5,824" fill="none" stroke="#000" stroke-width="2.2" stroke-linejoin="round" stroke-linecap="round" />
<ellipse cx="597.9" cy="829.3" rx="8.5" ry="12.5" transform="rotate(-35 597.9 829.3)" fill="url(#thr2)" stroke="#000" stroke-width="1.2" />
<path d="M590,822 Q592,814 600,817 Q593,820 592,828 Z" fill="#000" stroke="#000" stroke-width="1" stroke-linejoin="round" stroke-linecap="round" />
<ellipse cx="587.2" cy="793" rx="6.8" ry="4.3" transform="rotate(0 587.2 793)" fill="#000" stroke="#000" stroke-width="1.2" />
<ellipse cx="588.8" cy="793.4" rx="5" ry="3.3" transform="rotate(0 588.8 793.4)" fill="#fff" stroke="#000" stroke-width="0" />
<ellipse cx="588.8" cy="793.4" rx="5" ry="3.3" transform="rotate(0 588.8 793.4)" fill="none" stroke="#000" stroke-width="0.9" />
<ellipse cx="605.9" cy="782.4" rx="6.8" ry="4.3" transform="rotate(0 605.9 782.4)" fill="#000" stroke="#000" stroke-width="1.2" />
<ellipse cx="607.5" cy="782.8" rx="5" ry="3.3" transform="rotate(0 607.5 782.8)" fill="#fff" stroke="#000" stroke-width="0" />
<ellipse cx="607.5" cy="782.8" rx="5" ry="3.3" transform="rotate(0 607.5 782.8)" fill="none" stroke="#000" stroke-width="0.9" />
<ellipse cx="632.5" cy="807.5" rx="6.8" ry="4.3" transform="rotate(0 632.5 807.5)" fill="#000" stroke="#000" stroke-width="1.2" />
<ellipse cx="634.1" cy="807.9" rx="5" ry="3.3" transform="rotate(0 634.1 807.9)" fill="#fff" stroke="#000" stroke-width="0" />
<ellipse cx="634.1" cy="807.9" rx="5" ry="3.3" transform="rotate(0 634.1 807.9)" fill="none" stroke="#000" stroke-width="0.9" />
<g transform="translate(570.3,836.8) rotate(151.10)">
<rect x="0" y="-12.2" width="147.0" height="24.5" fill="#c4c4c4" stroke="none"/>
<path d="M1.0,-12.2 Q12.0,1.2 5.3,12.2 M4.0,-12.2 Q15.0,1.2 8.3,12.2 M7.0,-12.2 Q18.0,1.2 11.3,12.2 M10.0,-12.2 Q21.0,1.2 14.3,12.2 M13.0,-12.2 Q24.0,1.2 17.3,12.2 M16.0,-12.2 Q27.0,1.2 20.3,12.2 M19.0,-12.2 Q30.0,1.2 23.3,12.2 M22.0,-12.2 Q33.0,1.2 26.3,12.2 M25.0,-12.2 Q36.0,1.2 29.3,12.2 M28.0,-12.2 Q39.0,1.2 32.3,12.2 M31.0,-12.2 Q42.0,1.2 35.3,12.2 M34.0,-12.2 Q45.0,1.2 38.3,12.2 M37.0,-12.2 Q48.0,1.2 41.3,12.2 M40.0,-12.2 Q51.0,1.2 44.3,12.2 M43.0,-12.2 Q54.0,1.2 47.3,12.2 M46.0,-12.2 Q57.0,1.2 50.3,12.2 M49.0,-12.2 Q60.0,1.2 53.3,12.2 M52.0,-12.2 Q63.0,1.2 56.3,12.2 M55.0,-12.2 Q66.0,1.2 59.3,12.2 M58.0,-12.2 Q69.0,1.2 62.3,12.2 M61.0,-12.2 Q72.0,1.2 65.3,12.2 M64.0,-12.2 Q75.0,1.2 68.3,12.2 M67.0,-12.2 Q78.0,1.2 71.3,12.2 M70.0,-12.2 Q81.0,1.2 74.3,12.2 M73.0,-12.2 Q84.0,1.2 77.3,12.2 M76.0,-12.2 Q87.0,1.2 80.3,12.2 M79.0,-12.2 Q90.0,1.2 83.3,12.2 M82.0,-12.2 Q93.0,1.2 86.3,12.2 M85.0,-12.2 Q96.0,1.2 89.3,12.2 M88.0,-12.2 Q99.0,1.2 92.3,12.2 M91.0,-12.2 Q102.0,1.2 95.3,12.2 M94.0,-12.2 Q105.0,1.2 98.3,12.2 M97.0,-12.2 Q108.0,1.2 101.3,12.2 M100.0,-12.2 Q111.0,1.2 104.3,12.2 M103.0,-12.2 Q114.0,1.2 107.3,12.2 M106.0,-12.2 Q117.0,1.2 110.3,12.2 M109.0,-12.2 Q120.0,1.2 113.3,12.2 M112.0,-12.2 Q123.0,1.2 116.3,12.2 M115.0,-12.2 Q126.0,1.2 119.3,12.2 M118.0,-12.2 Q129.0,1.2 122.3,12.2 M121.0,-12.2 Q132.0,1.2 125.3,12.2 M124.0,-12.2 Q135.0,1.2 128.3,12.2 M127.0,-12.2 Q138.0,1.2 131.3,12.2 M130.0,-12.2 Q141.0,1.2 134.3,12.2 M133.0,-12.2 Q144.0,1.2 137.3,12.2 M136.0,-12.2 Q147.0,1.2 140.3,12.2 M139.0,-12.2 Q150.0,1.2 143.3,12.2 M142.0,-12.2 Q153.0,1.2 146.3,12.2 M145.0,-12.2 Q156.0,1.2 149.3,12.2" fill="none" stroke="#151515" stroke-width="0.95"/>
<path d="M4.1,12.2 L6.9,12.2 L5.1,9.7 Z M7.1,12.2 L9.9,12.2 L8.1,9.7 Z M10.1,12.2 L12.9,12.2 L11.1,9.7 Z M13.1,12.2 L15.9,12.2 L14.1,9.7 Z M16.1,12.2 L18.9,12.2 L17.1,9.7 Z M19.1,12.2 L21.9,12.2 L20.1,9.7 Z M22.1,12.2 L24.9,12.2 L23.1,9.7 Z M25.1,12.2 L27.9,12.2 L26.1,9.7 Z M28.1,12.2 L30.9,12.2 L29.1,9.7 Z M31.1,12.2 L33.9,12.2 L32.1,9.7 Z M34.1,12.2 L36.9,12.2 L35.1,9.7 Z M37.1,12.2 L39.9,12.2 L38.1,9.7 Z M40.1,12.2 L42.9,12.2 L41.1,9.7 Z M43.1,12.2 L45.9,12.2 L44.1,9.7 Z M46.1,12.2 L48.9,12.2 L47.1,9.7 Z M49.1,12.2 L51.9,12.2 L50.1,9.7 Z M52.1,12.2 L54.9,12.2 L53.1,9.7 Z M55.1,12.2 L57.9,12.2 L56.1,9.7 Z M58.1,12.2 L60.9,12.2 L59.1,9.7 Z M61.1,12.2 L63.9,12.2 L62.1,9.7 Z M64.1,12.2 L66.9,12.2 L65.1,9.7 Z M67.1,12.2 L69.9,12.2 L68.1,9.7 Z M70.1,12.2 L72.9,12.2 L71.1,9.7 Z M73.1,12.2 L75.9,12.2 L74.1,9.7 Z M76.1,12.2 L78.9,12.2 L77.1,9.7 Z M79.1,12.2 L81.9,12.2 L80.1,9.7 Z M82.1,12.2 L84.9,12.2 L83.1,9.7 Z M85.1,12.2 L87.9,12.2 L86.1,9.7 Z M88.1,12.2 L90.9,12.2 L89.1,9.7 Z M91.1,12.2 L93.9,12.2 L92.1,9.7 Z M94.1,12.2 L96.9,12.2 L95.1,9.7 Z M97.1,12.2 L99.9,12.2 L98.1,9.7 Z M100.1,12.2 L102.9,12.2 L101.1,9.7 Z M103.1,12.2 L105.9,12.2 L104.1,9.7 Z M106.1,12.2 L108.9,12.2 L107.1,9.7 Z M109.1,12.2 L111.9,12.2 L110.1,9.7 Z M112.1,12.2 L114.9,12.2 L113.1,9.7 Z M115.1,12.2 L117.9,12.2 L116.1,9.7 Z M118.1,12.2 L120.9,12.2 L119.1,9.7 Z M121.1,12.2 L123.9,12.2 L122.1,9.7 Z M124.1,12.2 L126.9,12.2 L125.1,9.7 Z M127.1,12.2 L129.9,12.2 L128.1,9.7 Z M130.1,12.2 L132.9,12.2 L131.1,9.7 Z M133.1,12.2 L135.9,12.2 L134.1,9.7 Z M136.1,12.2 L138.9,12.2 L137.1,9.7 Z M139.1,12.2 L141.9,12.2 L140.1,9.7 Z M142.1,12.2 L144.9,12.2 L143.1,9.7 Z M145.1,12.2 L147.9,12.2 L146.1,9.7 Z" fill="#000"/>
<path d="M0,-12.2 L147.0,-12.2 M0,12.2 L147.0,12.2" stroke="#000" stroke-width="1.2"/>
</g>
<g transform="translate(441.6,907.8) rotate(151.10)">
<path d="M-1,-12.2 L3,-9.8 L15.0,-9.8 L15.0,9.8 L3,9.8 L-1,12.2" fill="#fff" stroke="#000" stroke-width="1.2"/>
<path d="M0,-12.2 A6.9,12.2 0 0 1 0,12.2" fill="none" stroke="#000" stroke-width="1.0"/>
</g>
<g transform="translate(428.5,915.1) rotate(151.10)">
<rect x="0" y="-8.2" width="62.0" height="16.5" fill="#c4c4c4" stroke="none"/>
<path d="M1.0,-8.2 Q8.4,0.8 3.9,8.2 M3.6,-8.2 Q11.0,0.8 6.5,8.2 M6.2,-8.2 Q13.6,0.8 9.1,8.2 M8.8,-8.2 Q16.2,0.8 11.7,8.2 M11.4,-8.2 Q18.8,0.8 14.3,8.2 M14.0,-8.2 Q21.4,0.8 16.9,8.2 M16.6,-8.2 Q24.0,0.8 19.5,8.2 M19.2,-8.2 Q26.6,0.8 22.1,8.2 M21.8,-8.2 Q29.2,0.8 24.7,8.2 M24.4,-8.2 Q31.8,0.8 27.3,8.2 M27.0,-8.2 Q34.4,0.8 29.9,8.2 M29.6,-8.2 Q37.0,0.8 32.5,8.2 M32.2,-8.2 Q39.6,0.8 35.1,8.2 M34.8,-8.2 Q42.2,0.8 37.7,8.2 M37.4,-8.2 Q44.8,0.8 40.3,8.2 M40.0,-8.2 Q47.4,0.8 42.9,8.2 M42.6,-8.2 Q50.0,0.8 45.5,8.2 M45.2,-8.2 Q52.6,0.8 48.1,8.2 M47.8,-8.2 Q55.2,0.8 50.7,8.2 M50.4,-8.2 Q57.8,0.8 53.3,8.2 M53.0,-8.2 Q60.4,0.8 55.9,8.2 M55.6,-8.2 Q63.0,0.8 58.5,8.2 M58.2,-8.2 Q65.6,0.8 61.1,8.2 M60.8,-8.2 Q68.2,0.8 63.7,8.2" fill="none" stroke="#151515" stroke-width="0.95"/>
<path d="M2.7,8.2 L5.5,8.2 L3.7,5.7 Z M5.3,8.2 L8.1,8.2 L6.3,5.7 Z M7.9,8.2 L10.7,8.2 L8.9,5.7 Z M10.5,8.2 L13.3,8.2 L11.5,5.7 Z M13.1,8.2 L15.9,8.2 L14.1,5.7 Z M15.7,8.2 L18.5,8.2 L16.7,5.7 Z M18.3,8.2 L21.1,8.2 L19.3,5.7 Z M20.9,8.2 L23.7,8.2 L21.9,5.7 Z M23.5,8.2 L26.3,8.2 L24.5,5.7 Z M26.1,8.2 L28.9,8.2 L27.1,5.7 Z M28.7,8.2 L31.5,8.2 L29.7,5.7 Z M31.3,8.2 L34.1,8.2 L32.3,5.7 Z M33.9,8.2 L36.7,8.2 L34.9,5.7 Z M36.5,8.2 L39.3,8.2 L37.5,5.7 Z M39.1,8.2 L41.9,8.2 L40.1,5.7 Z M41.7,8.2 L44.5,8.2 L42.7,5.7 Z M44.3,8.2 L47.1,8.2 L45.3,5.7 Z M46.9,8.2 L49.7,8.2 L47.9,5.7 Z M49.5,8.2 L52.3,8.2 L50.5,5.7 Z M52.1,8.2 L54.9,8.2 L53.1,5.7 Z M54.7,8.2 L57.5,8.2 L55.7,5.7 Z M57.3,8.2 L60.1,8.2 L58.3,5.7 Z M59.9,8.2 L62.7,8.2 L60.9,5.7 Z" fill="#000"/>
<path d="M0,-8.2 L62.0,-8.2 M0,8.2 L62.0,8.2" stroke="#000" stroke-width="1.2"/>
</g>
<ellipse cx="374.2" cy="945.1" rx="5" ry="8.2" transform="rotate(151.1 374.2 945.1)" fill="#fff" stroke="#000" stroke-width="1.2" />
<ellipse cx="570.3" cy="836.8" rx="7" ry="12.2" transform="rotate(151.1 570.3 836.8)" fill="url(#thr2)" stroke="#000" stroke-width="1.2" />
<ellipse cx="772.7" cy="371" rx="6.5" ry="6.8" transform="rotate(-30 772.7 371)" fill="#bbb" stroke="#000" stroke-width="1.4" />
<ellipse cx="773.7" cy="370.5" rx="3.6" ry="3.9" transform="rotate(-30 773.7 370.5)" fill="#fff" stroke="#000" stroke-width="1.1" />
<path d="M767.5,372.9 L771.4,376.9 M766.9,369.7 L770.1,365.8" fill="none" stroke="#000" stroke-width="1.2" stroke-linejoin="round" stroke-linecap="round" />
<g transform="translate(781.0,364.0) rotate(-28.5)">
<path d="M0,-3.5 L19.9,-3.5 A2.1,3.5 0 0 1 19.9,3.5 L0,3.5 A2.1,3.5 0 0 1 0,-3.5 Z" fill="#fff" stroke="#000" stroke-width="1.3"/>
<line x1="1" y1="2.9" x2="19.9" y2="2.9" stroke="#000" stroke-width="1.4"/>
<ellipse cx="0" cy="0" rx="2.1" ry="3.5" fill="#fff" stroke="#000" stroke-width="1.1"/>
</g>
<ellipse cx="814.3" cy="393.5" rx="6.5" ry="6.8" transform="rotate(-30 814.3 393.5)" fill="#bbb" stroke="#000" stroke-width="1.4" />
<ellipse cx="815.3" cy="393" rx="3.6" ry="3.9" transform="rotate(-30 815.3 393)" fill="#fff" stroke="#000" stroke-width="1.1" />
<path d="M809.1,395.4 L813.0,399.4 M808.4,392.2 L811.7,388.3" fill="none" stroke="#000" stroke-width="1.2" stroke-linejoin="round" stroke-linecap="round" />
<g transform="translate(823.0,387.5) rotate(-28.5)">
<path d="M0,-3.5 L19.9,-3.5 A2.1,3.5 0 0 1 19.9,3.5 L0,3.5 A2.1,3.5 0 0 1 0,-3.5 Z" fill="#fff" stroke="#000" stroke-width="1.3"/>
<line x1="1" y1="2.9" x2="19.9" y2="2.9" stroke="#000" stroke-width="1.4"/>
<ellipse cx="0" cy="0" rx="2.1" ry="3.5" fill="#fff" stroke="#000" stroke-width="1.1"/>
</g>
<ellipse cx="857" cy="418.6" rx="6.5" ry="6.8" transform="rotate(-30 857 418.6)" fill="#bbb" stroke="#000" stroke-width="1.4" />
<ellipse cx="858" cy="418.1" rx="3.6" ry="3.9" transform="rotate(-30 858 418.1)" fill="#fff" stroke="#000" stroke-width="1.1" />
<path d="M851.8,420.6 L855.7,424.5 M851.1,417.3 L854.4,413.4" fill="none" stroke="#000" stroke-width="1.2" stroke-linejoin="round" stroke-linecap="round" />
<g transform="translate(866.0,412.5) rotate(-28.5)">
<path d="M0,-3.5 L19.9,-3.5 A2.1,3.5 0 0 1 19.9,3.5 L0,3.5 A2.1,3.5 0 0 1 0,-3.5 Z" fill="#fff" stroke="#000" stroke-width="1.3"/>
<line x1="1" y1="2.9" x2="19.9" y2="2.9" stroke="#000" stroke-width="1.4"/>
<ellipse cx="0" cy="0" rx="2.1" ry="3.5" fill="#fff" stroke="#000" stroke-width="1.1"/>
</g>
<ellipse cx="899.5" cy="443.8" rx="6.5" ry="6.8" transform="rotate(-30 899.5 443.8)" fill="#bbb" stroke="#000" stroke-width="1.4" />
<ellipse cx="900.5" cy="443.3" rx="3.6" ry="3.9" transform="rotate(-30 900.5 443.3)" fill="#fff" stroke="#000" stroke-width="1.1" />
<path d="M894.3,445.8 L898.2,449.7 M893.6,442.5 L896.9,438.6" fill="none" stroke="#000" stroke-width="1.2" stroke-linejoin="round" stroke-linecap="round" />
<g transform="translate(908.5,437.5) rotate(-28.5)">
<path d="M0,-3.5 L19.9,-3.5 A2.1,3.5 0 0 1 19.9,3.5 L0,3.5 A2.1,3.5 0 0 1 0,-3.5 Z" fill="#fff" stroke="#000" stroke-width="1.3"/>
<line x1="1" y1="2.9" x2="19.9" y2="2.9" stroke="#000" stroke-width="1.4"/>
<ellipse cx="0" cy="0" rx="2.1" ry="3.5" fill="#fff" stroke="#000" stroke-width="1.1"/>
</g>
<g transform="translate(890.4,425.5) rotate(-27.8)">
<path d="M0,-3.0 L18.2,-3.0 A1.8,3.0 0 0 1 18.2,3.0 L0,3.0 A1.8,3.0 0 0 1 0,-3.0 Z" fill="#fff" stroke="#000" stroke-width="1.3"/>
<line x1="1" y1="2.4" x2="18.2" y2="2.4" stroke="#000" stroke-width="1.4"/>
<ellipse cx="0" cy="0" rx="1.8" ry="3.0" fill="#fff" stroke="#000" stroke-width="1.1"/>
</g>
<ellipse cx="908.7" cy="414.5" rx="4" ry="5.2" transform="rotate(-30 908.7 414.5)" fill="#fff" stroke="#000" stroke-width="1.3" />
<polyline points="905.5,413 906.5,420" fill="none" stroke="#000" stroke-width="1.0" stroke-linejoin="round" stroke-linecap="round" />
<path d="M723.8,390 L745,378.5 L777.5,396 L757,409.4 Z" fill="#fff" stroke="#000" stroke-width="1.3" stroke-linejoin="round" stroke-linecap="round" />
<polyline points="724.5,391.5 732.3,398.4 757,410" fill="none" stroke="#000" stroke-width="1.2" stroke-linejoin="round" stroke-linecap="round" />
<polyline points="733,401 756,412" fill="none" stroke="#444" stroke-width="2.2" stroke-linejoin="round" stroke-linecap="round" stroke-dasharray="1.2 1.2"/>
<polyline points="709.5,412.3 731,399" fill="none" stroke="#000" stroke-width="1.2" stroke-linejoin="round" stroke-linecap="round" />
<path d="M708.6,368.2 L766.6,397.5 L766.6,404 L717.9,376.4 Z" fill="#fff" stroke="#000" stroke-width="1.2" stroke-linejoin="round" stroke-linecap="round" />
<polyline points="766.6,392.5 766.6,404" fill="none" stroke="#000" stroke-width="1.2" stroke-linejoin="round" stroke-linecap="round" />
<g transform="translate(694.0,637.4) rotate(29.7)">
<path d="M0,-3.5 L24.2,-3.5 A2.1,3.5 0 0 1 24.2,3.5 L0,3.5 A2.1,3.5 0 0 1 0,-3.5 Z" fill="#fff" stroke="#000" stroke-width="1.3"/>
<line x1="1" y1="2.9" x2="24.2" y2="2.9" stroke="#000" stroke-width="1.4"/>
<ellipse cx="0" cy="0" rx="2.1" ry="3.5" fill="#fff" stroke="#000" stroke-width="1.1"/>
</g>
<ellipse cx="689" cy="634.4" rx="6.5" ry="7" transform="rotate(-30 689 634.4)" fill="#fff" stroke="#000" stroke-width="1.4" />
<path d="M686,631.4 L691,635.4 M686,635.4 L690,638.4" fill="none" stroke="#000" stroke-width="1.3" stroke-linejoin="round" stroke-linecap="round" />
<g transform="translate(758.8,599.3) rotate(29.7)">
<path d="M0,-3.5 L24.2,-3.5 A2.1,3.5 0 0 1 24.2,3.5 L0,3.5 A2.1,3.5 0 0 1 0,-3.5 Z" fill="#fff" stroke="#000" stroke-width="1.3"/>
<line x1="1" y1="2.9" x2="24.2" y2="2.9" stroke="#000" stroke-width="1.4"/>
<ellipse cx="0" cy="0" rx="2.1" ry="3.5" fill="#fff" stroke="#000" stroke-width="1.1"/>
</g>
<ellipse cx="753.8" cy="596.3" rx="6.5" ry="7" transform="rotate(-30 753.8 596.3)" fill="#fff" stroke="#000" stroke-width="1.4" />
<path d="M750.8,593.3 L755.8,597.3 M750.8,597.3 L754.8,600.3" fill="none" stroke="#000" stroke-width="1.3" stroke-linejoin="round" stroke-linecap="round" />
<g transform="translate(822.9,561.8) rotate(29.7)">
<path d="M0,-3.5 L24.2,-3.5 A2.1,3.5 0 0 1 24.2,3.5 L0,3.5 A2.1,3.5 0 0 1 0,-3.5 Z" fill="#fff" stroke="#000" stroke-width="1.3"/>
<line x1="1" y1="2.9" x2="24.2" y2="2.9" stroke="#000" stroke-width="1.4"/>
<ellipse cx="0" cy="0" rx="2.1" ry="3.5" fill="#fff" stroke="#000" stroke-width="1.1"/>
</g>
<ellipse cx="817.9" cy="558.8" rx="6.5" ry="7" transform="rotate(-30 817.9 558.8)" fill="#fff" stroke="#000" stroke-width="1.4" />
<path d="M814.9,555.8 L819.9,559.8 M814.9,559.8 L818.9,562.8" fill="none" stroke="#000" stroke-width="1.3" stroke-linejoin="round" stroke-linecap="round" />
<g transform="translate(886.0,524.0) rotate(28.9)">
<path d="M0,-3.5 L21.7,-3.5 A2.1,3.5 0 0 1 21.7,3.5 L0,3.5 A2.1,3.5 0 0 1 0,-3.5 Z" fill="#fff" stroke="#000" stroke-width="1.3"/>
<line x1="1" y1="2.9" x2="21.7" y2="2.9" stroke="#000" stroke-width="1.4"/>
<ellipse cx="0" cy="0" rx="2.1" ry="3.5" fill="#fff" stroke="#000" stroke-width="1.1"/>
</g>
<ellipse cx="883" cy="521" rx="5.5" ry="6.5" transform="rotate(-30 883 521)" fill="#fff" stroke="#000" stroke-width="1.3" />
<g transform="translate(780.8,575.6) rotate(30)"><rect x="0" y="-4" width="20" height="8" fill="url(#thr2)" stroke="#000" stroke-width="1.1"/></g>
<ellipse cx="803.6" cy="589.4" rx="5.5" ry="7" transform="rotate(-30 803.6 589.4)" fill="#fff" stroke="#000" stroke-width="1.4" />
<path d="M801,586 L806,592 M800,590 L804,594" fill="none" stroke="#000" stroke-width="1.2" stroke-linejoin="round" stroke-linecap="round" />
<ellipse cx="677" cy="628.8" rx="1.6" ry="2.6" transform="rotate(-25 677 628.8)" fill="#000" stroke="#000" stroke-width="0.8" />
<ellipse cx="742.4" cy="591.2" rx="1.6" ry="2.6" transform="rotate(-25 742.4 591.2)" fill="#000" stroke="#000" stroke-width="0.8" />
<ellipse cx="774.8" cy="572" rx="1.6" ry="2.6" transform="rotate(-25 774.8 572)" fill="#000" stroke="#000" stroke-width="0.8" />
<ellipse cx="806.7" cy="554.1" rx="1.6" ry="2.6" transform="rotate(-25 806.7 554.1)" fill="#000" stroke="#000" stroke-width="0.8" />
<ellipse cx="872" cy="516.8" rx="1.6" ry="2.6" transform="rotate(-25 872 516.8)" fill="#000" stroke="#000" stroke-width="0.8" />
<rect x="763.0" y="616.0" width="7.5" height="34.0" rx="3" fill="url(#thr2)" stroke="#000" stroke-width="1.2"/>
<rect x="781.9" y="641.0" width="9" height="22.0" rx="3" fill="url(#thr2)" stroke="#000" stroke-width="1.2"/>
<rect x="806.7" y="623.5" width="9" height="36.5" rx="3" fill="url(#thr2)" stroke="#000" stroke-width="1.2"/>
<ellipse cx="766.8" cy="634.4" rx="8.5" ry="4" transform="rotate(0 766.8 634.4)" fill="#fff" stroke="#000" stroke-width="1.2" />
<ellipse cx="766.8" cy="634.4" rx="4" ry="2" transform="rotate(0 766.8 634.4)" fill="none" stroke="#000" stroke-width="0.9" />
<ellipse cx="767.5" cy="649.3" rx="5.5" ry="3" transform="rotate(0 767.5 649.3)" fill="#fff" stroke="#000" stroke-width="1.1" />
<rect x="762" y="649.3" width="11" height="7" fill="#fff" stroke="#000" stroke-width="1"/>
<ellipse cx="767.5" cy="656.3" rx="5.5" ry="3" transform="rotate(0 767.5 656.3)" fill="#fff" stroke="#000" stroke-width="1.1" />
<ellipse cx="783" cy="662" rx="4" ry="2.5" transform="rotate(0 783 662)" fill="#fff" stroke="#000" stroke-width="1.0" />
<ellipse cx="808" cy="658" rx="4" ry="2.5" transform="rotate(0 808 658)" fill="#fff" stroke="#000" stroke-width="1.0" />
<g transform="translate(560.7,664.4) rotate(-30)"><path d="M0,0 L6,-2 L74,-2 L74,2 L6,2 Z" fill="#fff" stroke="#000" stroke-width="1"/></g>
<g transform="translate(936.0,671.0) rotate(-28.1)">
<path d="M0,-2.8 L17.0,-2.8 A1.6,2.8 0 0 1 17.0,2.8 L0,2.8 A1.6,2.8 0 0 1 0,-2.8 Z" fill="#fff" stroke="#000" stroke-width="1.3"/>
<line x1="1" y1="2.1" x2="17.0" y2="2.1" stroke="#000" stroke-width="1.4"/>
<ellipse cx="0" cy="0" rx="1.6" ry="2.8" fill="#fff" stroke="#000" stroke-width="1.1"/>
</g>
<g transform="translate(937.0,690.5) rotate(-28.0)">
<path d="M0,-3.2 L18.1,-3.2 A1.9,3.2 0 0 1 18.1,3.2 L0,3.2 A1.9,3.2 0 0 1 0,-3.2 Z" fill="#fff" stroke="#000" stroke-width="1.3"/>
<line x1="1" y1="2.6" x2="18.1" y2="2.6" stroke="#000" stroke-width="1.4"/>
<ellipse cx="0" cy="0" rx="1.9" ry="3.2" fill="#fff" stroke="#000" stroke-width="1.1"/>
</g>
<polyline points="930,674 936,671" fill="none" stroke="#000" stroke-width="1.4" stroke-linejoin="round" stroke-linecap="round" />
<polyline points="928,675 913,685" fill="none" stroke="#000" stroke-width="1.1" stroke-linejoin="round" stroke-linecap="round" stroke-dasharray="11 4 2 4" stroke-linecap="butt"/>
<polyline points="931,693.5 922,699" fill="none" stroke="#000" stroke-width="1.1" stroke-linejoin="round" stroke-linecap="round" stroke-dasharray="11 4 2 4" stroke-linecap="butt"/>
<ellipse cx="787" cy="476" rx="7" ry="4" transform="rotate(0 787 476)" fill="#fff" stroke="#000" stroke-width="1.1" />
<ellipse cx="813" cy="490" rx="7" ry="4" transform="rotate(0 813 490)" fill="#fff" stroke="#000" stroke-width="1.1" />
<polyline points="813,478 813,490" fill="none" stroke="#000" stroke-width="1.1" stroke-linejoin="round" stroke-linecap="round" />
<path d="M1083.7,669.5 L1230.2,587.2 Q1235,585 1239.1,591.9 L1239.1,647.3 L1092.6,730.2 Q1086,731 1083.7,725.7 Z" fill="#fff" stroke="#000" stroke-width="1.6" stroke-linejoin="round" stroke-linecap="round" />
<polyline points="1092.6,674.8 1239.1,592.5" fill="none" stroke="#000" stroke-width="1.2" stroke-linejoin="round" stroke-linecap="round" />
<polyline points="1092.6,674.8 1092.6,730.2" fill="none" stroke="#000" stroke-width="1.2" stroke-linejoin="round" stroke-linecap="round" />
<polyline points="1083.7,669.5 1092.6,674.8" fill="none" stroke="#000" stroke-width="1.2" stroke-linejoin="round" stroke-linecap="round" />
<ellipse cx="1171" cy="659.1" rx="5.5" ry="7.5" transform="rotate(20 1171 659.1)" fill="none" stroke="#000" stroke-width="1.2" />
<g transform="translate(1227,606) rotate(28)"><rect x="0" y="-3" width="18" height="6" fill="url(#thr2)" stroke="#000" stroke-width="1.1"/></g>
<ellipse cx="1247" cy="617" rx="4.5" ry="5.5" transform="rotate(28 1247 617)" fill="#888" stroke="#000" stroke-width="1.4" />
<ellipse cx="1247.5" cy="616.5" rx="2" ry="2.5" transform="rotate(28 1247.5 616.5)" fill="#fff" stroke="#000" stroke-width="0" />
<g transform="translate(1099,681) rotate(28)"><rect x="0" y="-3" width="18" height="6" fill="url(#thr2)" stroke="#000" stroke-width="1.1"/></g>
<ellipse cx="1120" cy="692.5" rx="4.5" ry="5.5" transform="rotate(28 1120 692.5)" fill="#888" stroke="#000" stroke-width="1.4" />
<ellipse cx="1120.5" cy="692" rx="2" ry="2.5" transform="rotate(28 1120.5 692)" fill="#fff" stroke="#000" stroke-width="0" />
<ellipse cx="1125" cy="632" rx="9.5" ry="12.5" transform="rotate(25 1125 632)" fill="none" stroke="#000" stroke-width="1.6" />
<ellipse cx="1125" cy="632" rx="6.5" ry="9.5" transform="rotate(25 1125 632)" fill="none" stroke="#000" stroke-width="1.1" />
<ellipse cx="1221" cy="691" rx="20" ry="33" transform="rotate(22 1221 691)" fill="url(#knurl)" stroke="#000" stroke-width="1.2" />
<ellipse cx="1227" cy="694" rx="20" ry="33" transform="rotate(22 1227 694)" fill="#fff" stroke="#000" stroke-width="1.2" />
<ellipse cx="1242" cy="700" rx="24" ry="37.5" transform="rotate(22 1242 700)" fill="#fff" stroke="#000" stroke-width="1.3" />
<ellipse cx="1243" cy="701" rx="17" ry="25.5" transform="rotate(22 1243 701)" fill="#fff" stroke="#000" stroke-width="1.2" />
<polyline points="1227,690 1262,711" fill="none" stroke="#000" stroke-width="1.1" stroke-linejoin="round" stroke-linecap="round" stroke-dasharray="11 4 2 4" stroke-linecap="butt"/>
<ellipse cx="1200.8" cy="676.4" rx="7.5" ry="10" transform="rotate(25 1200.8 676.4)" fill="#fff" stroke="#000" stroke-width="1.5" />
<ellipse cx="1200.8" cy="676.4" rx="4.8" ry="7" transform="rotate(25 1200.8 676.4)" fill="#fff" stroke="#000" stroke-width="1.1" />
<path d="M1292,664 Q1308,652 1325,649 L1327,654 Q1311,658 1295,669 Z" fill="#fff" stroke="#000" stroke-width="1.1" stroke-linejoin="round" stroke-linecap="round" />
<ellipse cx="1294.5" cy="730" rx="42" ry="57" transform="rotate(25 1294.5 730)" fill="#fff" stroke="#000" stroke-width="1.3" />
<ellipse cx="1302" cy="737" rx="42" ry="57" transform="rotate(25 1302 737)" fill="#fff" stroke="#000" stroke-width="1.3" />
<ellipse cx="1303" cy="737.5" rx="39" ry="53.5" transform="rotate(25 1303 737.5)" fill="none" stroke="#000" stroke-width="1.0" />
<ellipse cx="1307" cy="741.7" rx="19" ry="27" transform="rotate(25 1307 741.7)" fill="#fff" stroke="#000" stroke-width="1.3" />
<polyline points="1292,729 1324,748" fill="none" stroke="#000" stroke-width="1.1" stroke-linejoin="round" stroke-linecap="round" stroke-dasharray="11 4 2 4" stroke-linecap="butt"/>
<polyline points="1171,659 1199,675" fill="none" stroke="#000" stroke-width="1.1" stroke-linejoin="round" stroke-linecap="round" stroke-dasharray="11 4 2 4" stroke-linecap="butt"/>
<g transform="translate(1309,702) rotate(28)"><rect x="0" y="-11.5" width="55" height="23" fill="#000"/><ellipse cx="0" cy="0" rx="6.5" ry="11.5" fill="#000"/></g>
<ellipse cx="1357" cy="727" rx="8.5" ry="13" transform="rotate(28 1357 727)" fill="#000" stroke="#000" stroke-width="1.3" />
<ellipse cx="1357" cy="727" rx="6" ry="10" transform="rotate(28 1357 727)" fill="#000" stroke="#fff" stroke-width="1.5" />
<ellipse cx="1357" cy="727" rx="8" ry="12.5" transform="rotate(28 1357 727)" fill="none" stroke="#fff" stroke-width="1.2"/>
<g transform="translate(1364,733) rotate(27)"><rect x="0" y="-4" width="20" height="8" fill="url(#thr2)" stroke="#000" stroke-width="1"/><rect x="20" y="-7.5" width="64" height="15" fill="#fff" stroke="#000" stroke-width="1.2"/></g>
<ellipse cx="1436" cy="771.6" rx="8" ry="10.5" transform="rotate(27 1436 771.6)" fill="#fff" stroke="#000" stroke-width="1.3" />
<polyline points="1431,767 1441,776" fill="none" stroke="#000" stroke-width="1.2" stroke-linejoin="round" stroke-linecap="round" />
<path d="M1331,756 L1341,744 L1352,745 Q1364,752 1365,764 Q1360,775 1346,775 L1334,770 Z" fill="#fff" stroke="#000" stroke-width="1.2" stroke-linejoin="round" stroke-linecap="round" />
<polyline points="1341,744 1337,759 1346,775" fill="none" stroke="#000" stroke-width="1.0" stroke-linejoin="round" stroke-linecap="round" />
<polyline points="1331,756 1337,759" fill="none" stroke="#000" stroke-width="1.0" stroke-linejoin="round" stroke-linecap="round" />
<path d="M238.5,918 L238.5,969 L385.5,1054.5 L394.5,1054.5 L394.5,999 L247.5,912.5 Q240,911 238.5,918 Z" fill="#fff" stroke="#000" stroke-width="1.6" stroke-linejoin="round" stroke-linecap="round" />
<polyline points="247,918 385.5,1002 394.5,999" fill="none" stroke="#000" stroke-width="1.2" stroke-linejoin="round" stroke-linecap="round" />
<polyline points="385.5,1002 385.5,1054.5" fill="none" stroke="#000" stroke-width="1.2" stroke-linejoin="round" stroke-linecap="round" />
<polyline points="241,916 247,918" fill="none" stroke="#000" stroke-width="1.2" stroke-linejoin="round" stroke-linecap="round" />
<ellipse cx="306" cy="985.5" rx="6" ry="8" transform="rotate(20 306 985.5)" fill="none" stroke="#000" stroke-width="1.2" />
<g transform="translate(249,947) rotate(152)"><rect x="0" y="-3" width="17" height="6" fill="url(#thr2)" stroke="#000" stroke-width="1.1"/></g>
<ellipse cx="230" cy="957" rx="4.5" ry="5.5" transform="rotate(-28 230 957)" fill="#888" stroke="#000" stroke-width="1.4" />
<ellipse cx="229.5" cy="956.5" rx="2" ry="2.5" transform="rotate(-28 229.5 956.5)" fill="#fff" stroke="#000" stroke-width="0" />
<g transform="translate(376,1019) rotate(152)"><rect x="0" y="-3" width="17" height="6" fill="url(#thr2)" stroke="#000" stroke-width="1.1"/></g>
<ellipse cx="357" cy="1029" rx="4.5" ry="5.5" transform="rotate(-28 357 1029)" fill="#888" stroke="#000" stroke-width="1.4" />
<ellipse cx="356.5" cy="1028.5" rx="2" ry="2.5" transform="rotate(-28 356.5 1028.5)" fill="#fff" stroke="#000" stroke-width="0" />
<ellipse cx="364.3" cy="952.5" rx="9.5" ry="12.5" transform="rotate(-25 364.3 952.5)" fill="none" stroke="#000" stroke-width="1.6" />
<ellipse cx="364.3" cy="952.5" rx="6.5" ry="9.5" transform="rotate(-25 364.3 952.5)" fill="none" stroke="#000" stroke-width="1.1" />
<ellipse cx="260" cy="1018" rx="20" ry="33" transform="rotate(-22 260 1018)" fill="url(#knurl)" stroke="#000" stroke-width="1.2" />
<ellipse cx="252" cy="1021" rx="20" ry="33" transform="rotate(-22 252 1021)" fill="#fff" stroke="#000" stroke-width="1.2" />
<ellipse cx="238.5" cy="1023.5" rx="25" ry="36.5" transform="rotate(-22 238.5 1023.5)" fill="#fff" stroke="#000" stroke-width="1.3" />
<ellipse cx="240" cy="1024" rx="17" ry="25.5" transform="rotate(-22 240 1024)" fill="#fff" stroke="#000" stroke-width="1.2" />
<polyline points="222,1034 256,1013" fill="none" stroke="#000" stroke-width="1.1" stroke-linejoin="round" stroke-linecap="round" stroke-dasharray="11 4 2 4" stroke-linecap="butt"/>
<ellipse cx="280" cy="1001" rx="7.5" ry="10" transform="rotate(-25 280 1001)" fill="#fff" stroke="#000" stroke-width="1.5" />
<ellipse cx="280" cy="1001" rx="4.8" ry="7" transform="rotate(-25 280 1001)" fill="#fff" stroke="#000" stroke-width="1.1" />
<path d="M157,977 Q172,981 186,990 L188,985 Q174,976 160,972 Z" fill="#fff" stroke="#000" stroke-width="1.1" stroke-linejoin="round" stroke-linecap="round" />
<ellipse cx="189" cy="1056" rx="42" ry="57" transform="rotate(-25 189 1056)" fill="#fff" stroke="#000" stroke-width="1.3" />
<ellipse cx="181" cy="1062" rx="42" ry="57" transform="rotate(-25 181 1062)" fill="#fff" stroke="#000" stroke-width="1.3" />
<ellipse cx="180" cy="1062.5" rx="39" ry="53.5" transform="rotate(-25 180 1062.5)" fill="none" stroke="#000" stroke-width="1.0" />
<ellipse cx="171.5" cy="1064" rx="19" ry="26" transform="rotate(-25 171.5 1064)" fill="#fff" stroke="#000" stroke-width="1.3" />
<polyline points="156,1075 188,1056" fill="none" stroke="#000" stroke-width="1.1" stroke-linejoin="round" stroke-linecap="round" stroke-dasharray="11 4 2 4" stroke-linecap="butt"/>
<polyline points="286,997 306,985" fill="none" stroke="#000" stroke-width="1.1" stroke-linejoin="round" stroke-linecap="round" stroke-dasharray="11 4 2 4" stroke-linecap="butt"/>
<g transform="translate(176,1017) rotate(152)"><rect x="0" y="-11.5" width="56" height="23" fill="#000"/><ellipse cx="0" cy="0" rx="6.5" ry="11.5" fill="#000"/></g>
<ellipse cx="124.3" cy="1051.5" rx="8.5" ry="12.5" transform="rotate(-28 124.3 1051.5)" fill="#000" stroke="#000" stroke-width="1.3" />
<ellipse cx="124.3" cy="1051.5" rx="8" ry="12" transform="rotate(-28 124.3 1051.5)" fill="none" stroke="#fff" stroke-width="1.2"/>
<g transform="translate(117,1057) rotate(152)"><rect x="0" y="-4" width="16" height="8" fill="url(#thr2)" stroke="#000" stroke-width="1"/><rect x="16" y="-7.5" width="64" height="15" fill="#fff" stroke="#000" stroke-width="1.2"/></g>
<ellipse cx="47" cy="1095" rx="8" ry="10.5" transform="rotate(-28 47 1095)" fill="#fff" stroke="#000" stroke-width="1.3" />
<polyline points="42,1100 52,1090" fill="none" stroke="#000" stroke-width="1.2" stroke-linejoin="round" stroke-linecap="round" />
<path d="M149,1077 L141,1068 L129,1069 Q117,1076 115,1090 Q119,1101 133,1102 L147,1095 Z" fill="#fff" stroke="#000" stroke-width="1.2" stroke-linejoin="round" stroke-linecap="round" />
<polyline points="141,1068 137,1084 136,1102" fill="none" stroke="#000" stroke-width="1.0" stroke-linejoin="round" stroke-linecap="round" />
<polyline points="149,1077 137,1084" fill="none" stroke="#000" stroke-width="1.0" stroke-linejoin="round" stroke-linecap="round" />
<rect x="582.7" y="1019.7" width="10.6" height="35.3" rx="4" fill="url(#thr2)" stroke="#000" stroke-width="1.1"/>
<path d="M578.2,1055.0 L578.2,1065.0 A9.8,4 0 0 0 597.8,1065.0 L597.8,1055.0" fill="#fff" stroke="#000" stroke-width="1.2"/>
<ellipse cx="588" cy="1055" rx="9.8" ry="4" transform="rotate(0 588 1055)" fill="#fff" stroke="#000" stroke-width="1.2" />
<ellipse cx="588" cy="1055" rx="5" ry="2" transform="rotate(0 588 1055)" fill="none" stroke="#000" stroke-width="0.8" />
<rect x="607.2" y="1001.6" width="10.6" height="35.4" rx="4" fill="url(#thr2)" stroke="#000" stroke-width="1.1"/>
<path d="M602.7,1037.0 L602.7,1047.0 A9.8,4 0 0 0 622.3,1047.0 L622.3,1037.0" fill="#fff" stroke="#000" stroke-width="1.2"/>
<ellipse cx="612.5" cy="1037" rx="9.8" ry="4" transform="rotate(0 612.5 1037)" fill="#fff" stroke="#000" stroke-width="1.2" />
<ellipse cx="612.5" cy="1037" rx="5" ry="2" transform="rotate(0 612.5 1037)" fill="none" stroke="#000" stroke-width="0.8" />
<rect x="626.4" y="1030.4" width="10.6" height="35.6" rx="4" fill="url(#thr2)" stroke="#000" stroke-width="1.1"/>
<path d="M621.9,1066.0 L621.9,1076.0 A9.8,4 0 0 0 641.5,1076.0 L641.5,1066.0" fill="#fff" stroke="#000" stroke-width="1.2"/>
<ellipse cx="631.7" cy="1066" rx="9.8" ry="4" transform="rotate(0 631.7 1066)" fill="#fff" stroke="#000" stroke-width="1.2" />
<ellipse cx="631.7" cy="1066" rx="5" ry="2" transform="rotate(0 631.7 1066)" fill="none" stroke="#000" stroke-width="0.8" />
<ellipse cx="632.2" cy="1016.5" rx="10.7" ry="6.4" transform="rotate(0 632.2 1016.5)" fill="#fff" stroke="#000" stroke-width="1.3" />
<ellipse cx="632.2" cy="1016.5" rx="5" ry="3" transform="rotate(0 632.2 1016.5)" fill="none" stroke="#000" stroke-width="1" />
<polyline points="211,224.4 284,224.4" fill="none" stroke="#000" stroke-width="1.8" stroke-linejoin="round" stroke-linecap="round" />
<polyline points="316,304.4 392,304" fill="none" stroke="#000" stroke-width="1.8" stroke-linejoin="round" stroke-linecap="round" />
<polyline points="743,261 743,304 722.6,371" fill="none" stroke="#000" stroke-width="1.8" stroke-linejoin="round" stroke-linecap="round" />
<polyline points="774.7,276 774.7,315 730,421.2" fill="none" stroke="#000" stroke-width="1.8" stroke-linejoin="round" stroke-linecap="round" />
<polyline points="827.7,305 813.8,386.8" fill="none" stroke="#000" stroke-width="1.8" stroke-linejoin="round" stroke-linecap="round" />
<polyline points="865.9,332.8 837,380.3" fill="none" stroke="#000" stroke-width="1.8" stroke-linejoin="round" stroke-linecap="round" />
<polyline points="938.5,373.8 910.5,413.8" fill="none" stroke="#000" stroke-width="1.8" stroke-linejoin="round" stroke-linecap="round" />
<polyline points="637,434.3 751.4,434.3" fill="none" stroke="#000" stroke-width="1.8" stroke-linejoin="round" stroke-linecap="round" />
<polyline points="1033.8,424 1033.8,572.6" fill="none" stroke="#000" stroke-width="1.8" stroke-linejoin="round" stroke-linecap="round" />
<polyline points="1127,488 1127,622" fill="none" stroke="#000" stroke-width="1.8" stroke-linejoin="round" stroke-linecap="round" />
<polyline points="1177,509.6 1177,641.4" fill="none" stroke="#000" stroke-width="1.8" stroke-linejoin="round" stroke-linecap="round" />
<polyline points="1209.5,533.3 1200.6,665" fill="none" stroke="#000" stroke-width="1.8" stroke-linejoin="round" stroke-linecap="round" />
<polyline points="1246,549.6 1246,610.3" fill="none" stroke="#000" stroke-width="1.8" stroke-linejoin="round" stroke-linecap="round" />
<polyline points="1280.6,607.3 1288,716.9" fill="none" stroke="#000" stroke-width="1.8" stroke-linejoin="round" stroke-linecap="round" />
<polyline points="1311,607.3 1311,657.6" fill="none" stroke="#000" stroke-width="1.8" stroke-linejoin="round" stroke-linecap="round" />
<polyline points="1351.6,604.4 1351.6,713.9" fill="none" stroke="#000" stroke-width="1.8" stroke-linejoin="round" stroke-linecap="round" />
<polyline points="1389.5,604.4 1389.5,740.5" fill="none" stroke="#000" stroke-width="1.8" stroke-linejoin="round" stroke-linecap="round" />
<polyline points="1225,728.7 1225,820.5" fill="none" stroke="#000" stroke-width="1.8" stroke-linejoin="round" stroke-linecap="round" />
<polyline points="1342.8,764.2 1342.8,822" fill="none" stroke="#000" stroke-width="1.8" stroke-linejoin="round" stroke-linecap="round" />
<polyline points="806.7,584 861.7,591.5" fill="none" stroke="#000" stroke-width="1.8" stroke-linejoin="round" stroke-linecap="round" />
<polyline points="817.9,637.2 867.3,633.5" fill="none" stroke="#000" stroke-width="1.8" stroke-linejoin="round" stroke-linecap="round" />
<polyline points="644.3,674.5 691,636.3" fill="none" stroke="#000" stroke-width="1.8" stroke-linejoin="round" stroke-linecap="round" />
<polyline points="653,664 700,645" fill="none" stroke="#000" stroke-width="1.8" stroke-linejoin="round" stroke-linecap="round" />
<polyline points="677.9,683.9 705.9,649.3" fill="none" stroke="#000" stroke-width="1.8" stroke-linejoin="round" stroke-linecap="round" />
<polyline points="724.5,676.4 761.9,636.3" fill="none" stroke="#000" stroke-width="1.8" stroke-linejoin="round" stroke-linecap="round" />
<polyline points="526.4,621.8 586.8,646.7" fill="none" stroke="#000" stroke-width="1.8" stroke-linejoin="round" stroke-linecap="round" />
<polyline points="597,735.5 597,795" fill="none" stroke="#000" stroke-width="1.8" stroke-linejoin="round" stroke-linecap="round" />
<polyline points="944.5,694.7 991,722.8" fill="none" stroke="#000" stroke-width="1.8" stroke-linejoin="round" stroke-linecap="round" />
<polyline points="782.1,940 782.1,1016.5" fill="none" stroke="#000" stroke-width="1.8" stroke-linejoin="round" stroke-linecap="round" />
<polyline points="839.7,888 839.7,1023" fill="none" stroke="#000" stroke-width="1.8" stroke-linejoin="round" stroke-linecap="round" />
<polyline points="587,1067 587,1107" fill="none" stroke="#000" stroke-width="1.8" stroke-linejoin="round" stroke-linecap="round" />
<polyline points="644.5,1019.7 670,1031.5" fill="none" stroke="#000" stroke-width="1.8" stroke-linejoin="round" stroke-linecap="round" />
<polyline points="82.5,1077 82.5,1119" fill="none" stroke="#000" stroke-width="1.8" stroke-linejoin="round" stroke-linecap="round" />
<polyline points="135.6,1080 135.6,1122" fill="none" stroke="#000" stroke-width="1.8" stroke-linejoin="round" stroke-linecap="round" />
<polyline points="121.5,1009.5 121.5,1040" fill="none" stroke="#000" stroke-width="1.8" stroke-linejoin="round" stroke-linecap="round" />
<polyline points="210,939 228,984" fill="none" stroke="#000" stroke-width="1.8" stroke-linejoin="round" stroke-linecap="round" />
<polyline points="222,1092 235.5,1122" fill="none" stroke="#000" stroke-width="1.8" stroke-linejoin="round" stroke-linecap="round" />
<polyline points="288,1020 297,1119" fill="none" stroke="#000" stroke-width="1.8" stroke-linejoin="round" stroke-linecap="round" />
<polyline points="357,1023 357,1125" fill="none" stroke="#000" stroke-width="1.8" stroke-linejoin="round" stroke-linecap="round" />
<polyline points="388.5,1020 388.5,1113" fill="none" stroke="#000" stroke-width="1.8" stroke-linejoin="round" stroke-linecap="round" />
<polyline points="312,897 357,942" fill="none" stroke="#000" stroke-width="1.8" stroke-linejoin="round" stroke-linecap="round" />
<polyline points="457.5,912 457.5,1008" fill="none" stroke="#000" stroke-width="1.8" stroke-linejoin="round" stroke-linecap="round" />
<polyline points="171,966 175,985" fill="none" stroke="#000" stroke-width="1.8" stroke-linejoin="round" stroke-linecap="round" />
<path d="M775.9 1032.76Q774.41 1035.3 773.08 1037.68Q771.75 1040.06 770.76 1042.47Q769.77 1044.88 769.2 1047.42Q768.62 1049.96 768.62 1052.8H764.02Q764.02 1049.83 764.74 1047.05Q765.47 1044.27 766.83 1041.39Q768.2 1038.51 771.8 1032.9H760.8V1029H775.9ZM792.08 1047.95V1052.8H787.87V1047.95H777.8V1044.39L787.15 1029H792.08V1044.42H795.04V1047.95ZM787.87 1036.63Q787.87 1035.72 787.93 1034.66Q787.98 1033.59 788.01 1033.29Q787.6 1034.23 786.54 1036.02L781.4 1044.42H787.87Z" fill="#000"/>
</svg>
</body></html>
